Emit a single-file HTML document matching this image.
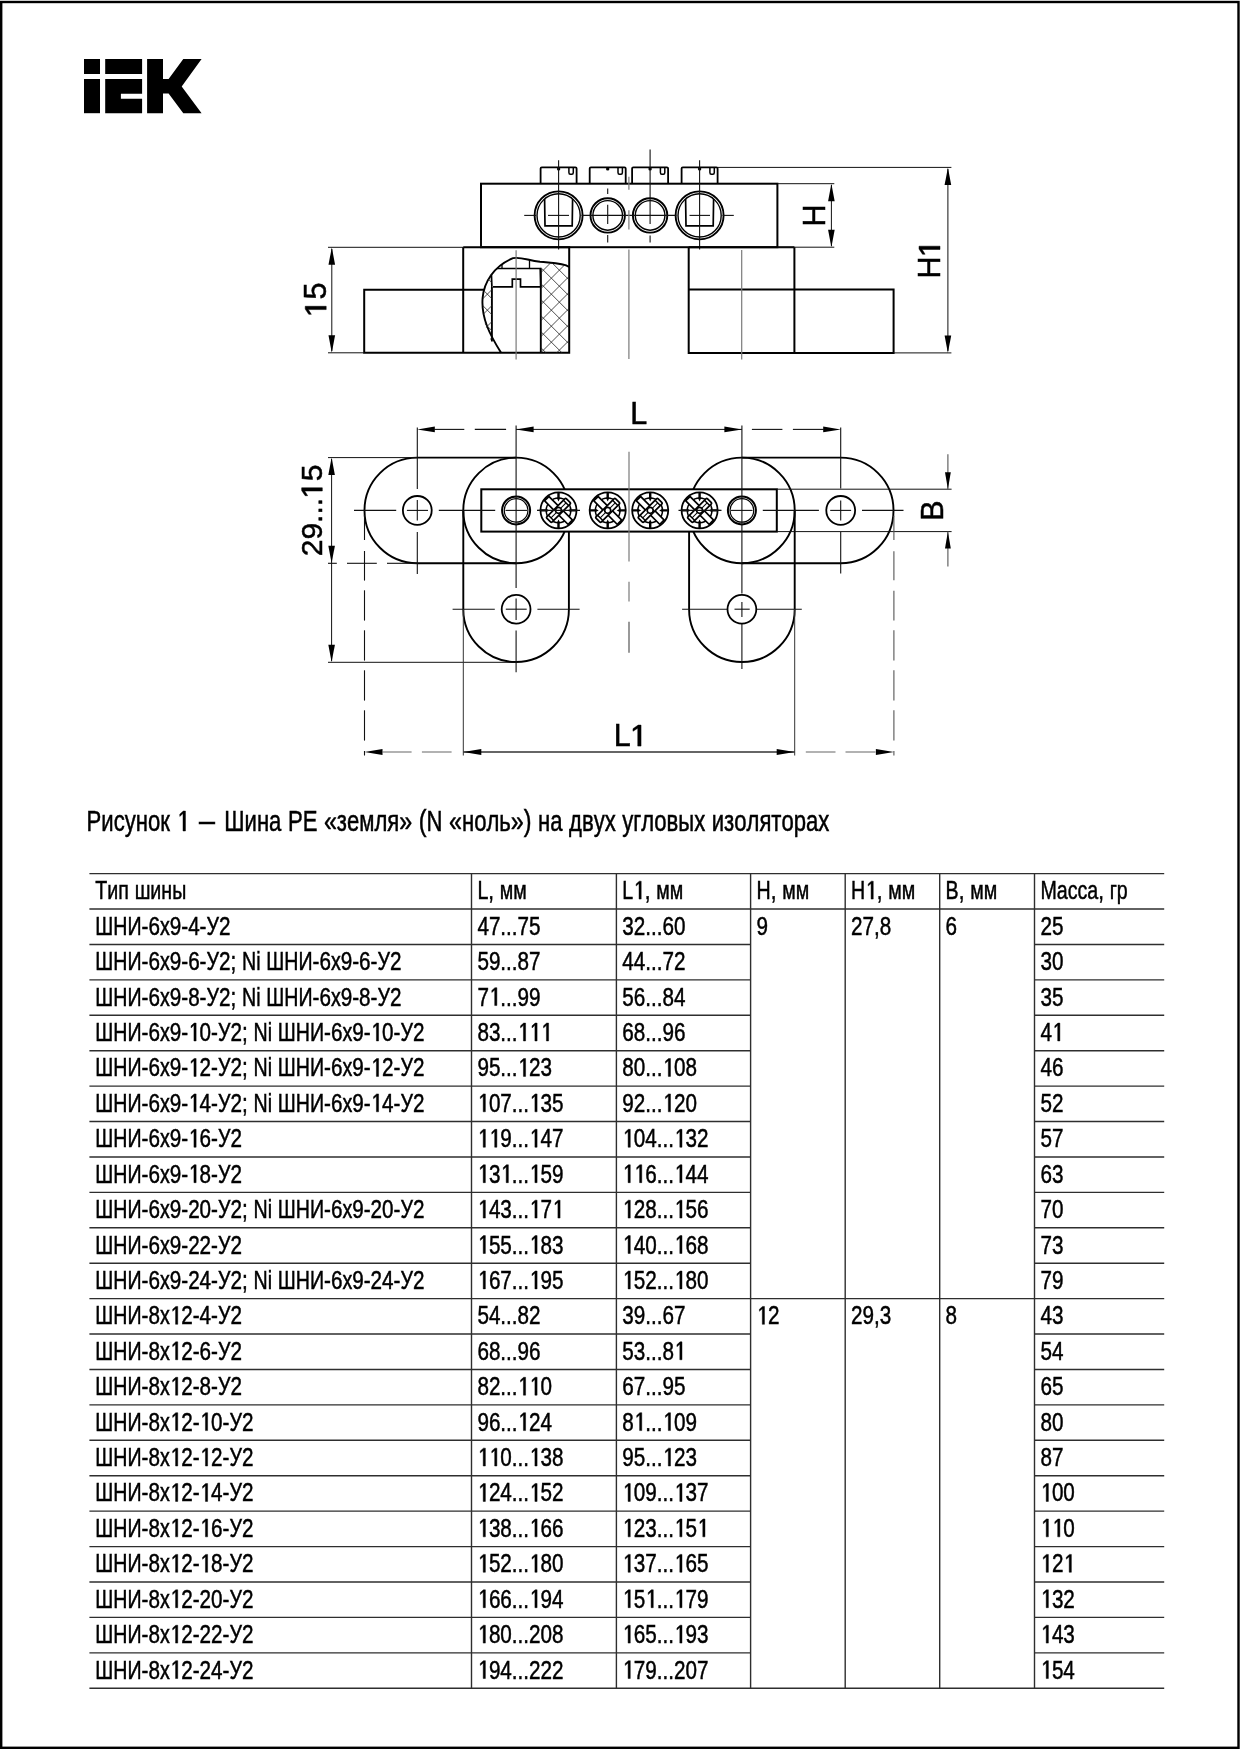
<!DOCTYPE html><html><head><meta charset="utf-8"><style>html,body{margin:0;padding:0;background:#fff;}svg{display:block;will-change:transform;}</style></head><body>
<svg width="1240" height="1750" viewBox="0 0 1240 1750">
<defs><path id="g1" d="M0.2808 0.0000 L0.2808 -0.6006 L0.1416 -0.5029 L0.1416 -0.5811 L0.2930 -0.6880 L0.3857 -0.6880 L0.3857 0.0000 Z"/><path id="g1a" d="M0.2295 0.0000 L0.2295 -0.5859 L0.0732 -0.4883 L0.0732 -0.5713 L0.2441 -0.6880 L0.3369 -0.6880 L0.3369 0.0000 Z"/></defs>
<rect x="0" y="0" width="1240" height="1750" fill="#fff"/>
<rect x="1.2" y="2" width="1237.3" height="1745.8" fill="none" stroke="#000" stroke-width="2.4"/>
<g fill="#000">
<rect x="84" y="59" width="16" height="15"/>
<rect x="84" y="79" width="16" height="34.2"/>
<rect x="105.2" y="59" width="36.9" height="15"/>
<path d="M105.2 79 H142.1 V93.8 H120.9 V98.8 H142.1 V113.2 H105.2 Z"/>
<path d="M147.1 59 H163 V78.9 H168.6 L183.3 59 H201.6 L181.7 86.5 L201.6 113.2 H183.3 L168.6 93.6 H163 V113.2 H147.1 Z"/>
</g>
<path d="M540.60 183.7 V168.6 Q540.60 167.4 541.80 167.4 H575.40 Q576.60 167.4 576.60 168.6 V183.7" stroke="#000" stroke-width="1.8" fill="none" />
<path d="M568.90 167.4 V172.4 Q568.90 174.2 570.30 174.2 H571.90 Q573.30 174.2 573.30 172.4 V167.4" stroke="#000" stroke-width="1.5" fill="none" />
<circle cx="558.60" cy="168.90" r="1.70" stroke="#000" stroke-width="0" fill="#000"/>
<path d="M589.70 183.7 V168.6 Q589.70 167.4 590.90 167.4 H624.50 Q625.70 167.4 625.70 168.6 V183.7" stroke="#000" stroke-width="1.8" fill="none" />
<path d="M618.00 167.4 V172.4 Q618.00 174.2 619.40 174.2 H621.00 Q622.40 174.2 622.40 172.4 V167.4" stroke="#000" stroke-width="1.5" fill="none" />
<circle cx="607.70" cy="168.90" r="1.70" stroke="#000" stroke-width="0" fill="#000"/>
<path d="M632.10 183.7 V168.6 Q632.10 167.4 633.30 167.4 H666.90 Q668.10 167.4 668.10 168.6 V183.7" stroke="#000" stroke-width="1.8" fill="none" />
<path d="M660.40 167.4 V172.4 Q660.40 174.2 661.80 174.2 H663.40 Q664.80 174.2 664.80 172.4 V167.4" stroke="#000" stroke-width="1.5" fill="none" />
<circle cx="650.10" cy="168.90" r="1.70" stroke="#000" stroke-width="0" fill="#000"/>
<path d="M681.60 183.7 V168.6 Q681.60 167.4 682.80 167.4 H716.40 Q717.60 167.4 717.60 168.6 V183.7" stroke="#000" stroke-width="1.8" fill="none" />
<path d="M709.90 167.4 V172.4 Q709.90 174.2 711.30 174.2 H712.90 Q714.30 174.2 714.30 172.4 V167.4" stroke="#000" stroke-width="1.5" fill="none" />
<circle cx="699.60" cy="168.90" r="1.70" stroke="#000" stroke-width="0" fill="#000"/>
<rect x="481" y="183.7" width="296.4" height="63.50" fill="none" stroke="#000" stroke-width="2.0"/>
<circle cx="558.60" cy="215.40" r="24.00" stroke="#000" stroke-width="1.9" fill="none"/>
<circle cx="558.60" cy="215.40" r="21.60" stroke="#000" stroke-width="1.4" fill="none"/>
<path d="M544.60 198.95 L545.00 225.8 H572.20 L572.60 198.95" stroke="#000" stroke-width="1.7" fill="none" />
<circle cx="607.70" cy="215.40" r="17.20" stroke="#000" stroke-width="1.9" fill="none"/>
<circle cx="607.70" cy="215.40" r="14.80" stroke="#000" stroke-width="1.4" fill="none"/>
<circle cx="650.10" cy="215.40" r="17.20" stroke="#000" stroke-width="1.9" fill="none"/>
<circle cx="650.10" cy="215.40" r="14.80" stroke="#000" stroke-width="1.4" fill="none"/>
<circle cx="699.60" cy="215.40" r="24.00" stroke="#000" stroke-width="1.9" fill="none"/>
<circle cx="699.60" cy="215.40" r="21.60" stroke="#000" stroke-width="1.4" fill="none"/>
<path d="M685.60 198.95 L686.00 225.8 H713.20 L713.60 198.95" stroke="#000" stroke-width="1.7" fill="none" />
<line x1="558.60" y1="160.20" x2="558.60" y2="249.50" stroke="#111" stroke-width="1.1" />
<line x1="699.60" y1="160.20" x2="699.60" y2="249.50" stroke="#111" stroke-width="1.1" />
<line x1="650.10" y1="149.50" x2="650.10" y2="224.00" stroke="#111" stroke-width="1.1" />
<line x1="650.10" y1="235.50" x2="650.10" y2="242.50" stroke="#111" stroke-width="1.1" />
<line x1="607.70" y1="188.40" x2="607.70" y2="194.00" stroke="#111" stroke-width="1.1" />
<line x1="607.70" y1="204.80" x2="607.70" y2="224.00" stroke="#111" stroke-width="1.1" />
<line x1="607.70" y1="235.00" x2="607.70" y2="242.50" stroke="#111" stroke-width="1.1" />
<line x1="524.20" y1="215.40" x2="536.00" y2="215.40" stroke="#111" stroke-width="1.1" />
<line x1="548.00" y1="215.40" x2="569.00" y2="215.40" stroke="#111" stroke-width="1.1" />
<line x1="581.50" y1="215.40" x2="676.50" y2="215.40" stroke="#111" stroke-width="1.1" />
<line x1="689.50" y1="215.40" x2="710.00" y2="215.40" stroke="#111" stroke-width="1.1" />
<line x1="722.50" y1="215.40" x2="733.80" y2="215.40" stroke="#111" stroke-width="1.1" />
<line x1="628.90" y1="176.70" x2="628.90" y2="189.80" stroke="#7a7a7a" stroke-width="1.2" />
<line x1="628.90" y1="210.30" x2="628.90" y2="229.50" stroke="#7a7a7a" stroke-width="1.2" />
<line x1="628.90" y1="249.50" x2="628.90" y2="359.00" stroke="#7a7a7a" stroke-width="1.2" />
<path d="M688.7 247.2 V352.9 H893.6 V289.6 H688.7" stroke="#000" stroke-width="2.0" fill="none" />
<path d="M794.4 247.2 V352.9" stroke="#000" stroke-width="2.0" fill="none" />
<line x1="688.70" y1="247.20" x2="794.40" y2="247.20" stroke="#000" stroke-width="2.0" />
<line x1="741.70" y1="250.00" x2="741.70" y2="359.60" stroke="#7a7a7a" stroke-width="1.2" />
<path d="M463.2 247.2 H569.2 V352.8 H364.2 V289.7 H484.2" stroke="#000" stroke-width="2.0" fill="none" />
<path d="M463.2 247.2 V352.8" stroke="#000" stroke-width="2.0" fill="none" />
<path d="M501.1 352.8 C490 335 481 318 482.6 298 C484 282 494 266 513 258.2 C520 256.5 527 260 540 261.8 C552 263 563 262.5 569.2 267" stroke="#000" stroke-width="1.9" fill="none" />
<path d="M491.9 341.5 V286.9" stroke="#000" stroke-width="1.9" fill="none" />
<path d="M540.8 352.8 V268.5" stroke="#000" stroke-width="1.9" fill="none" />
<clipPath id="cut"><path d="M501.1 352.8 C490 335 481 318 482.6 298 C484 282 494 266 513 258.2 C520 256.5 527 260 540 261.8 C552 263 563 262.5 569.2 267 V352.8 Z"/></clipPath>
<g clip-path="url(#cut)">
<path d="M491.9 286.9 L491.2 268.5 H540.3 L540.8 286.9" stroke="#000" stroke-width="1.7" fill="none" />
<path d="M493 286.9 H512.3 V279.2 H520.5 V286.9 H540.3" stroke="#000" stroke-width="1.7" fill="none" />
<path d="M502 250 V269 M529.5 250 V269" stroke="#000" stroke-width="1.3" fill="none" />
</g>
<clipPath id="hr"><path d="M540.8 352.8 V268.5 L541 262 C552 263 563 262.5 569.2 267 V352.8 Z"/></clipPath>
<clipPath id="hl"><path d="M491.9 352 V286.9 L491.5 272 C486 282 482 298 482.6 305 C483 320 486 330 491.9 344 Z"/></clipPath>
<g clip-path="url(#hr)">
<path d="M-190.5 380 L-30.5 220 M-194.8 220 L-34.8 380 M-174.5 380 L-14.5 220 M-178.8 220 L-18.8 380 M-158.5 380 L1.5 220 M-162.8 220 L-2.8 380 M-142.5 380 L17.5 220 M-146.8 220 L13.2 380 M-126.5 380 L33.5 220 M-130.8 220 L29.2 380 M-110.5 380 L49.5 220 M-114.8 220 L45.2 380 M-94.5 380 L65.5 220 M-98.8 220 L61.2 380 M-78.5 380 L81.5 220 M-82.8 220 L77.2 380 M-62.5 380 L97.5 220 M-66.8 220 L93.2 380 M-46.5 380 L113.5 220 M-50.8 220 L109.2 380 M-30.5 380 L129.5 220 M-34.8 220 L125.2 380 M-14.5 380 L145.5 220 M-18.8 220 L141.2 380 M1.5 380 L161.5 220 M-2.8 220 L157.2 380 M17.5 380 L177.5 220 M13.2 220 L173.2 380 M33.5 380 L193.5 220 M29.2 220 L189.2 380 M49.5 380 L209.5 220 M45.2 220 L205.2 380 M65.5 380 L225.5 220 M61.2 220 L221.2 380 M81.5 380 L241.5 220 M77.2 220 L237.2 380 M97.5 380 L257.5 220 M93.2 220 L253.2 380 M113.5 380 L273.5 220 M109.2 220 L269.2 380 M129.5 380 L289.5 220 M125.2 220 L285.2 380 M145.5 380 L305.5 220 M141.2 220 L301.2 380 M161.5 380 L321.5 220 M157.2 220 L317.2 380 M177.5 380 L337.5 220 M173.2 220 L333.2 380 M193.5 380 L353.5 220 M189.2 220 L349.2 380 M209.5 380 L369.5 220 M205.2 220 L365.2 380 M225.5 380 L385.5 220 M221.2 220 L381.2 380 M241.5 380 L401.5 220 M237.2 220 L397.2 380 M257.5 380 L417.5 220 M253.2 220 L413.2 380 M273.5 380 L433.5 220 M269.2 220 L429.2 380 M289.5 380 L449.5 220 M285.2 220 L445.2 380 M305.5 380 L465.5 220 M301.2 220 L461.2 380 M321.5 380 L481.5 220 M317.2 220 L477.2 380 M337.5 380 L497.5 220 M333.2 220 L493.2 380 M353.5 380 L513.5 220 M349.2 220 L509.2 380 M369.5 380 L529.5 220 M365.2 220 L525.2 380 M385.5 380 L545.5 220 M381.2 220 L541.2 380 M401.5 380 L561.5 220 M397.2 220 L557.2 380 M417.5 380 L577.5 220 M413.2 220 L573.2 380 M433.5 380 L593.5 220 M429.2 220 L589.2 380 M449.5 380 L609.5 220 M445.2 220 L605.2 380 M465.5 380 L625.5 220 M461.2 220 L621.2 380 M481.5 380 L641.5 220 M477.2 220 L637.2 380 M497.5 380 L657.5 220 M493.2 220 L653.2 380 M513.5 380 L673.5 220 M509.2 220 L669.2 380 M529.5 380 L689.5 220 M525.2 220 L685.2 380 M545.5 380 L705.5 220 M541.2 220 L701.2 380 M561.5 380 L721.5 220 M557.2 220 L717.2 380 M577.5 380 L737.5 220 M573.2 220 L733.2 380 M593.5 380 L753.5 220 M589.2 220 L749.2 380 M609.5 380 L769.5 220 M605.2 220 L765.2 380 M625.5 380 L785.5 220 M621.2 220 L781.2 380 M641.5 380 L801.5 220 M637.2 220 L797.2 380 M657.5 380 L817.5 220 M653.2 220 L813.2 380 M673.5 380 L833.5 220 M669.2 220 L829.2 380 M689.5 380 L849.5 220 M685.2 220 L845.2 380 M705.5 380 L865.5 220 M701.2 220 L861.2 380 M721.5 380 L881.5 220 M717.2 220 L877.2 380 M737.5 380 L897.5 220 M733.2 220 L893.2 380 M753.5 380 L913.5 220 M749.2 220 L909.2 380 M769.5 380 L929.5 220 M765.2 220 L925.2 380 M785.5 380 L945.5 220 M781.2 220 L941.2 380 M801.5 380 L961.5 220 M797.2 220 L957.2 380 M817.5 380 L977.5 220 M813.2 220 L973.2 380 M833.5 380 L993.5 220 M829.2 220 L989.2 380 M849.5 380 L1009.5 220 M845.2 220 L1005.2 380 M865.5 380 L1025.5 220 M861.2 220 L1021.2 380 M881.5 380 L1041.5 220 M877.2 220 L1037.2 380 M897.5 380 L1057.5 220 M893.2 220 L1053.2 380 M913.5 380 L1073.5 220 M909.2 220 L1069.2 380 M929.5 380 L1089.5 220 M925.2 220 L1085.2 380 M945.5 380 L1105.5 220 M941.2 220 L1101.2 380 M961.5 380 L1121.5 220 M957.2 220 L1117.2 380 M977.5 380 L1137.5 220 M973.2 220 L1133.2 380 M993.5 380 L1153.5 220 M989.2 220 L1149.2 380 M1009.5 380 L1169.5 220 M1005.2 220 L1165.2 380 M1025.5 380 L1185.5 220 M1021.2 220 L1181.2 380 M1041.5 380 L1201.5 220 M1037.2 220 L1197.2 380 M1057.5 380 L1217.5 220 M1053.2 220 L1213.2 380 M1073.5 380 L1233.5 220 M1069.2 220 L1229.2 380" stroke="#222" stroke-width="0.8" fill="none" />
</g>
<g clip-path="url(#hl)">
<path d="M-190.5 380 L-30.5 220 M-194.8 220 L-34.8 380 M-174.5 380 L-14.5 220 M-178.8 220 L-18.8 380 M-158.5 380 L1.5 220 M-162.8 220 L-2.8 380 M-142.5 380 L17.5 220 M-146.8 220 L13.2 380 M-126.5 380 L33.5 220 M-130.8 220 L29.2 380 M-110.5 380 L49.5 220 M-114.8 220 L45.2 380 M-94.5 380 L65.5 220 M-98.8 220 L61.2 380 M-78.5 380 L81.5 220 M-82.8 220 L77.2 380 M-62.5 380 L97.5 220 M-66.8 220 L93.2 380 M-46.5 380 L113.5 220 M-50.8 220 L109.2 380 M-30.5 380 L129.5 220 M-34.8 220 L125.2 380 M-14.5 380 L145.5 220 M-18.8 220 L141.2 380 M1.5 380 L161.5 220 M-2.8 220 L157.2 380 M17.5 380 L177.5 220 M13.2 220 L173.2 380 M33.5 380 L193.5 220 M29.2 220 L189.2 380 M49.5 380 L209.5 220 M45.2 220 L205.2 380 M65.5 380 L225.5 220 M61.2 220 L221.2 380 M81.5 380 L241.5 220 M77.2 220 L237.2 380 M97.5 380 L257.5 220 M93.2 220 L253.2 380 M113.5 380 L273.5 220 M109.2 220 L269.2 380 M129.5 380 L289.5 220 M125.2 220 L285.2 380 M145.5 380 L305.5 220 M141.2 220 L301.2 380 M161.5 380 L321.5 220 M157.2 220 L317.2 380 M177.5 380 L337.5 220 M173.2 220 L333.2 380 M193.5 380 L353.5 220 M189.2 220 L349.2 380 M209.5 380 L369.5 220 M205.2 220 L365.2 380 M225.5 380 L385.5 220 M221.2 220 L381.2 380 M241.5 380 L401.5 220 M237.2 220 L397.2 380 M257.5 380 L417.5 220 M253.2 220 L413.2 380 M273.5 380 L433.5 220 M269.2 220 L429.2 380 M289.5 380 L449.5 220 M285.2 220 L445.2 380 M305.5 380 L465.5 220 M301.2 220 L461.2 380 M321.5 380 L481.5 220 M317.2 220 L477.2 380 M337.5 380 L497.5 220 M333.2 220 L493.2 380 M353.5 380 L513.5 220 M349.2 220 L509.2 380 M369.5 380 L529.5 220 M365.2 220 L525.2 380 M385.5 380 L545.5 220 M381.2 220 L541.2 380 M401.5 380 L561.5 220 M397.2 220 L557.2 380 M417.5 380 L577.5 220 M413.2 220 L573.2 380 M433.5 380 L593.5 220 M429.2 220 L589.2 380 M449.5 380 L609.5 220 M445.2 220 L605.2 380 M465.5 380 L625.5 220 M461.2 220 L621.2 380 M481.5 380 L641.5 220 M477.2 220 L637.2 380 M497.5 380 L657.5 220 M493.2 220 L653.2 380 M513.5 380 L673.5 220 M509.2 220 L669.2 380 M529.5 380 L689.5 220 M525.2 220 L685.2 380 M545.5 380 L705.5 220 M541.2 220 L701.2 380 M561.5 380 L721.5 220 M557.2 220 L717.2 380 M577.5 380 L737.5 220 M573.2 220 L733.2 380 M593.5 380 L753.5 220 M589.2 220 L749.2 380 M609.5 380 L769.5 220 M605.2 220 L765.2 380 M625.5 380 L785.5 220 M621.2 220 L781.2 380 M641.5 380 L801.5 220 M637.2 220 L797.2 380 M657.5 380 L817.5 220 M653.2 220 L813.2 380 M673.5 380 L833.5 220 M669.2 220 L829.2 380 M689.5 380 L849.5 220 M685.2 220 L845.2 380 M705.5 380 L865.5 220 M701.2 220 L861.2 380 M721.5 380 L881.5 220 M717.2 220 L877.2 380 M737.5 380 L897.5 220 M733.2 220 L893.2 380 M753.5 380 L913.5 220 M749.2 220 L909.2 380 M769.5 380 L929.5 220 M765.2 220 L925.2 380 M785.5 380 L945.5 220 M781.2 220 L941.2 380 M801.5 380 L961.5 220 M797.2 220 L957.2 380 M817.5 380 L977.5 220 M813.2 220 L973.2 380 M833.5 380 L993.5 220 M829.2 220 L989.2 380 M849.5 380 L1009.5 220 M845.2 220 L1005.2 380 M865.5 380 L1025.5 220 M861.2 220 L1021.2 380 M881.5 380 L1041.5 220 M877.2 220 L1037.2 380 M897.5 380 L1057.5 220 M893.2 220 L1053.2 380 M913.5 380 L1073.5 220 M909.2 220 L1069.2 380 M929.5 380 L1089.5 220 M925.2 220 L1085.2 380 M945.5 380 L1105.5 220 M941.2 220 L1101.2 380 M961.5 380 L1121.5 220 M957.2 220 L1117.2 380 M977.5 380 L1137.5 220 M973.2 220 L1133.2 380 M993.5 380 L1153.5 220 M989.2 220 L1149.2 380 M1009.5 380 L1169.5 220 M1005.2 220 L1165.2 380 M1025.5 380 L1185.5 220 M1021.2 220 L1181.2 380 M1041.5 380 L1201.5 220 M1037.2 220 L1197.2 380 M1057.5 380 L1217.5 220 M1053.2 220 L1213.2 380 M1073.5 380 L1233.5 220 M1069.2 220 L1229.2 380" stroke="#222" stroke-width="0.8" fill="none" />
</g>
<line x1="516.10" y1="250.20" x2="516.10" y2="359.50" stroke="#7a7a7a" stroke-width="1.2" />
<line x1="481.00" y1="240.00" x2="481.00" y2="247.20" stroke="#111" stroke-width="1.6" />
<line x1="328.00" y1="247.30" x2="463.20" y2="247.30" stroke="#111" stroke-width="1.0" />
<line x1="328.00" y1="352.80" x2="364.20" y2="352.80" stroke="#111" stroke-width="1.0" />
<line x1="331.80" y1="249.00" x2="331.80" y2="351.00" stroke="#111" stroke-width="1.0" />
<polygon points="331.80,247.30 328.50,264.80 335.10,264.80" fill="#000"/>
<polygon points="331.80,352.80 328.50,335.30 335.10,335.30" fill="#000"/>
<g transform="translate(326.20,299.60) rotate(-90)"><text x="-16.963" y="0" font-family="Liberation Sans" font-size="30.5" fill="#000" stroke="#000" stroke-width="0.5" style="font-kerning:none;white-space:pre"> 5</text><use href="#g1a" transform="translate(-16.963,0) scale(30.5)" fill="#000" stroke="#000" stroke-width="0.0164"/></g>
<line x1="777.40" y1="183.70" x2="834.30" y2="183.70" stroke="#111" stroke-width="1.0" />
<line x1="777.40" y1="247.20" x2="834.30" y2="247.20" stroke="#111" stroke-width="1.0" />
<line x1="831.40" y1="185.00" x2="831.40" y2="246.00" stroke="#111" stroke-width="1.0" />
<polygon points="831.40,183.70 828.10,201.20 834.70,201.20" fill="#000"/>
<polygon points="831.40,247.20 828.10,229.70 834.70,229.70" fill="#000"/>
<g transform="translate(825.00,215.40) rotate(-90)"><text x="-11.013" y="0" font-family="Liberation Sans" font-size="30.5" fill="#000" stroke="#000" stroke-width="0.5" style="font-kerning:none;white-space:pre">H</text></g>
<line x1="717.40" y1="167.40" x2="951.40" y2="167.40" stroke="#111" stroke-width="1.0" />
<line x1="893.60" y1="352.90" x2="951.40" y2="352.90" stroke="#111" stroke-width="1.0" />
<line x1="947.90" y1="169.00" x2="947.90" y2="351.00" stroke="#111" stroke-width="1.0" />
<polygon points="947.90,167.40 944.60,184.90 951.20,184.90" fill="#000"/>
<polygon points="947.90,352.90 944.60,335.40 951.20,335.40" fill="#000"/>
<g transform="translate(940.00,259.00) rotate(-90)"><text x="-19.494" y="0" font-family="Liberation Sans" font-size="30.5" fill="#000" stroke="#000" stroke-width="0.5" style="font-kerning:none;white-space:pre">H </text><use href="#g1a" transform="translate(2.532,0) scale(30.5)" fill="#000" stroke="#000" stroke-width="0.0164"/></g>
<path d="M516.1 457.59999999999997 H417.3 A52.8 52.8 0 0 0 417.3 563.1999999999999 H516.1" stroke="#000" stroke-width="1.9" fill="none" />
<path d="M741.9 457.59999999999997 H840.7 A52.8 52.8 0 0 1 840.7 563.1999999999999 H741.9" stroke="#000" stroke-width="1.9" fill="none" />
<path d="M463.3 510.4 V609.2 A52.8 52.8 0 0 0 568.9 609.2 V510.4" stroke="#000" stroke-width="1.9" fill="none" />
<path d="M689.1 510.4 V609.2 A52.8 52.8 0 0 0 794.6999999999999 609.2 V510.4" stroke="#000" stroke-width="1.9" fill="none" />
<circle cx="516.10" cy="510.40" r="52.80" stroke="#000" stroke-width="1.9" fill="none"/>
<circle cx="741.90" cy="510.40" r="52.80" stroke="#000" stroke-width="1.9" fill="none"/>
<circle cx="417.30" cy="510.40" r="14.40" stroke="#000" stroke-width="1.8" fill="none"/>
<circle cx="840.70" cy="510.40" r="14.40" stroke="#000" stroke-width="1.8" fill="none"/>
<circle cx="516.10" cy="609.20" r="14.40" stroke="#000" stroke-width="1.8" fill="none"/>
<circle cx="741.90" cy="609.20" r="14.40" stroke="#000" stroke-width="1.8" fill="none"/>
<rect x="481.3" y="489.3" width="295.5" height="42.3" fill="#fff" stroke="#000" stroke-width="2"/>
<circle cx="516.10" cy="510.40" r="14.00" stroke="#000" stroke-width="2.0" fill="none"/>
<circle cx="516.10" cy="510.40" r="11.80" stroke="#000" stroke-width="1.2" fill="none"/>
<circle cx="741.90" cy="510.40" r="14.00" stroke="#000" stroke-width="2.0" fill="none"/>
<circle cx="741.90" cy="510.40" r="11.80" stroke="#000" stroke-width="1.2" fill="none"/>
<g transform="translate(558.50,510.40)">
<circle cx="0.00" cy="0.00" r="18.00" stroke="#000" stroke-width="1.8" fill="#fff"/>
<circle cx="0.00" cy="0.00" r="12.30" stroke="#000" stroke-width="1.5" fill="none"/>
<g transform="rotate(45)">
<rect x="-16.6" y="-3.1" width="33.2" height="6.2" fill="#fff" stroke="#000" stroke-width="1.7"/>
<rect x="-3.7" y="-13.8" width="7.4" height="27.6" rx="1.2" fill="#fff" stroke="#000" stroke-width="1.7"/>
<path d="M-3.7 -10.6 H3.7 M-3.7 10.6 H3.7" stroke="#000" stroke-width="1.5" fill="none" />
<path d="M0 -10.6 V10.6" stroke="#000" stroke-width="1.0" fill="none" />
</g>
<circle cx="0.00" cy="0.00" r="3.00" stroke="#000" stroke-width="1.7" fill="#fff"/>
<g transform="rotate(0)"><path d="M-1.2 -17.6 V-12.6 L-1.8 -12.6 L0 -9.0 L1.8 -12.6 L1.2 -12.6 V-17.6 Z" fill="#000"/></g>
<g transform="rotate(90)"><path d="M-1.2 -17.6 V-12.6 L-1.8 -12.6 L0 -9.0 L1.8 -12.6 L1.2 -12.6 V-17.6 Z" fill="#000"/></g>
<g transform="rotate(180)"><path d="M-1.2 -17.6 V-12.6 L-1.8 -12.6 L0 -9.0 L1.8 -12.6 L1.2 -12.6 V-17.6 Z" fill="#000"/></g>
<g transform="rotate(270)"><path d="M-1.2 -17.6 V-12.6 L-1.8 -12.6 L0 -9.0 L1.8 -12.6 L1.2 -12.6 V-17.6 Z" fill="#000"/></g>
</g>
<g transform="translate(607.70,510.40)">
<circle cx="0.00" cy="0.00" r="18.00" stroke="#000" stroke-width="1.8" fill="#fff"/>
<circle cx="0.00" cy="0.00" r="12.30" stroke="#000" stroke-width="1.5" fill="none"/>
<g transform="rotate(45)">
<rect x="-16.6" y="-3.1" width="33.2" height="6.2" fill="#fff" stroke="#000" stroke-width="1.7"/>
<rect x="-3.7" y="-13.8" width="7.4" height="27.6" rx="1.2" fill="#fff" stroke="#000" stroke-width="1.7"/>
<path d="M-3.7 -10.6 H3.7 M-3.7 10.6 H3.7" stroke="#000" stroke-width="1.5" fill="none" />
<path d="M0 -10.6 V10.6" stroke="#000" stroke-width="1.0" fill="none" />
</g>
<circle cx="0.00" cy="0.00" r="3.00" stroke="#000" stroke-width="1.7" fill="#fff"/>
<g transform="rotate(0)"><path d="M-1.2 -17.6 V-12.6 L-1.8 -12.6 L0 -9.0 L1.8 -12.6 L1.2 -12.6 V-17.6 Z" fill="#000"/></g>
<g transform="rotate(90)"><path d="M-1.2 -17.6 V-12.6 L-1.8 -12.6 L0 -9.0 L1.8 -12.6 L1.2 -12.6 V-17.6 Z" fill="#000"/></g>
<g transform="rotate(180)"><path d="M-1.2 -17.6 V-12.6 L-1.8 -12.6 L0 -9.0 L1.8 -12.6 L1.2 -12.6 V-17.6 Z" fill="#000"/></g>
<g transform="rotate(270)"><path d="M-1.2 -17.6 V-12.6 L-1.8 -12.6 L0 -9.0 L1.8 -12.6 L1.2 -12.6 V-17.6 Z" fill="#000"/></g>
</g>
<g transform="translate(650.20,510.40)">
<circle cx="0.00" cy="0.00" r="18.00" stroke="#000" stroke-width="1.8" fill="#fff"/>
<circle cx="0.00" cy="0.00" r="12.30" stroke="#000" stroke-width="1.5" fill="none"/>
<g transform="rotate(45)">
<rect x="-16.6" y="-3.1" width="33.2" height="6.2" fill="#fff" stroke="#000" stroke-width="1.7"/>
<rect x="-3.7" y="-13.8" width="7.4" height="27.6" rx="1.2" fill="#fff" stroke="#000" stroke-width="1.7"/>
<path d="M-3.7 -10.6 H3.7 M-3.7 10.6 H3.7" stroke="#000" stroke-width="1.5" fill="none" />
<path d="M0 -10.6 V10.6" stroke="#000" stroke-width="1.0" fill="none" />
</g>
<circle cx="0.00" cy="0.00" r="3.00" stroke="#000" stroke-width="1.7" fill="#fff"/>
<g transform="rotate(0)"><path d="M-1.2 -17.6 V-12.6 L-1.8 -12.6 L0 -9.0 L1.8 -12.6 L1.2 -12.6 V-17.6 Z" fill="#000"/></g>
<g transform="rotate(90)"><path d="M-1.2 -17.6 V-12.6 L-1.8 -12.6 L0 -9.0 L1.8 -12.6 L1.2 -12.6 V-17.6 Z" fill="#000"/></g>
<g transform="rotate(180)"><path d="M-1.2 -17.6 V-12.6 L-1.8 -12.6 L0 -9.0 L1.8 -12.6 L1.2 -12.6 V-17.6 Z" fill="#000"/></g>
<g transform="rotate(270)"><path d="M-1.2 -17.6 V-12.6 L-1.8 -12.6 L0 -9.0 L1.8 -12.6 L1.2 -12.6 V-17.6 Z" fill="#000"/></g>
</g>
<g transform="translate(699.60,510.40)">
<circle cx="0.00" cy="0.00" r="18.00" stroke="#000" stroke-width="1.8" fill="#fff"/>
<circle cx="0.00" cy="0.00" r="12.30" stroke="#000" stroke-width="1.5" fill="none"/>
<g transform="rotate(45)">
<rect x="-16.6" y="-3.1" width="33.2" height="6.2" fill="#fff" stroke="#000" stroke-width="1.7"/>
<rect x="-3.7" y="-13.8" width="7.4" height="27.6" rx="1.2" fill="#fff" stroke="#000" stroke-width="1.7"/>
<path d="M-3.7 -10.6 H3.7 M-3.7 10.6 H3.7" stroke="#000" stroke-width="1.5" fill="none" />
<path d="M0 -10.6 V10.6" stroke="#000" stroke-width="1.0" fill="none" />
</g>
<circle cx="0.00" cy="0.00" r="3.00" stroke="#000" stroke-width="1.7" fill="#fff"/>
<g transform="rotate(0)"><path d="M-1.2 -17.6 V-12.6 L-1.8 -12.6 L0 -9.0 L1.8 -12.6 L1.2 -12.6 V-17.6 Z" fill="#000"/></g>
<g transform="rotate(90)"><path d="M-1.2 -17.6 V-12.6 L-1.8 -12.6 L0 -9.0 L1.8 -12.6 L1.2 -12.6 V-17.6 Z" fill="#000"/></g>
<g transform="rotate(180)"><path d="M-1.2 -17.6 V-12.6 L-1.8 -12.6 L0 -9.0 L1.8 -12.6 L1.2 -12.6 V-17.6 Z" fill="#000"/></g>
<g transform="rotate(270)"><path d="M-1.2 -17.6 V-12.6 L-1.8 -12.6 L0 -9.0 L1.8 -12.6 L1.2 -12.6 V-17.6 Z" fill="#000"/></g>
</g>
<line x1="537.00" y1="510.40" x2="580.00" y2="510.40" stroke="#111" stroke-width="1.1" />
<line x1="678.50" y1="510.40" x2="721.50" y2="510.40" stroke="#111" stroke-width="1.1" />
<line x1="354.00" y1="510.40" x2="396.20" y2="510.40" stroke="#111" stroke-width="1.1" />
<line x1="406.90" y1="510.40" x2="428.00" y2="510.40" stroke="#111" stroke-width="1.1" />
<line x1="438.80" y1="510.40" x2="495.20" y2="510.40" stroke="#111" stroke-width="1.1" />
<line x1="505.50" y1="510.40" x2="527.00" y2="510.40" stroke="#111" stroke-width="1.1" />
<line x1="537.50" y1="510.40" x2="545.50" y2="510.40" stroke="#111" stroke-width="1.1" />
<line x1="712.50" y1="510.40" x2="720.50" y2="510.40" stroke="#111" stroke-width="1.1" />
<line x1="731.00" y1="510.40" x2="752.50" y2="510.40" stroke="#111" stroke-width="1.1" />
<line x1="762.80" y1="510.40" x2="818.90" y2="510.40" stroke="#111" stroke-width="1.1" />
<line x1="830.20" y1="510.40" x2="851.10" y2="510.40" stroke="#111" stroke-width="1.1" />
<line x1="862.00" y1="510.40" x2="903.50" y2="510.40" stroke="#111" stroke-width="1.1" />
<line x1="417.30" y1="427.40" x2="417.30" y2="489.10" stroke="#111" stroke-width="1.1" />
<line x1="417.30" y1="500.00" x2="417.30" y2="520.50" stroke="#111" stroke-width="1.1" />
<line x1="417.30" y1="532.00" x2="417.30" y2="574.00" stroke="#111" stroke-width="1.1" />
<line x1="840.70" y1="427.40" x2="840.70" y2="488.40" stroke="#111" stroke-width="1.1" />
<line x1="840.70" y1="500.50" x2="840.70" y2="520.60" stroke="#111" stroke-width="1.1" />
<line x1="840.70" y1="532.00" x2="840.70" y2="573.50" stroke="#111" stroke-width="1.1" />
<line x1="516.10" y1="425.60" x2="516.10" y2="588.00" stroke="#111" stroke-width="1.1" />
<line x1="516.10" y1="598.40" x2="516.10" y2="620.00" stroke="#111" stroke-width="1.1" />
<line x1="516.10" y1="630.40" x2="516.10" y2="672.30" stroke="#111" stroke-width="1.1" />
<line x1="741.90" y1="425.60" x2="741.90" y2="593.50" stroke="#111" stroke-width="1.1" />
<line x1="741.90" y1="602.00" x2="741.90" y2="617.00" stroke="#111" stroke-width="1.1" />
<line x1="741.90" y1="624.00" x2="741.90" y2="669.00" stroke="#111" stroke-width="1.1" />
<line x1="452.60" y1="609.20" x2="494.80" y2="609.20" stroke="#111" stroke-width="1.1" />
<line x1="505.80" y1="609.20" x2="526.70" y2="609.20" stroke="#111" stroke-width="1.1" />
<line x1="537.40" y1="609.20" x2="579.60" y2="609.20" stroke="#111" stroke-width="1.1" />
<line x1="682.10" y1="609.20" x2="727.30" y2="609.20" stroke="#111" stroke-width="1.1" />
<line x1="734.50" y1="609.20" x2="749.70" y2="609.20" stroke="#111" stroke-width="1.1" />
<line x1="756.90" y1="609.20" x2="801.80" y2="609.20" stroke="#111" stroke-width="1.1" />
<line x1="629.00" y1="451.80" x2="629.00" y2="561.40" stroke="#7a7a7a" stroke-width="1.2" />
<line x1="629.00" y1="581.80" x2="629.00" y2="601.50" stroke="#7a7a7a" stroke-width="1.2" />
<line x1="629.00" y1="621.80" x2="629.00" y2="652.70" stroke="#555" stroke-width="1.2" />
<line x1="516.10" y1="429.40" x2="741.90" y2="429.40" stroke="#111" stroke-width="1.0" />
<line x1="434.30" y1="429.40" x2="464.30" y2="429.40" stroke="#111" stroke-width="1.1" />
<line x1="474.80" y1="429.40" x2="506.10" y2="429.40" stroke="#111" stroke-width="1.1" />
<line x1="751.90" y1="429.40" x2="782.40" y2="429.40" stroke="#111" stroke-width="1.1" />
<line x1="792.90" y1="429.40" x2="823.70" y2="429.40" stroke="#111" stroke-width="1.1" />
<polygon points="417.30,429.40 434.80,426.50 434.80,432.30" fill="#000"/>
<polygon points="516.10,429.40 533.60,426.50 533.60,432.30" fill="#000"/>
<polygon points="741.90,429.40 724.40,426.50 724.40,432.30" fill="#000"/>
<polygon points="840.70,429.40 823.20,426.50 823.20,432.30" fill="#000"/>
<g transform="translate(630.20,423.80)"><text x="0.000" y="0" font-family="Liberation Sans" font-size="30.5" fill="#000" stroke="#000" stroke-width="0.5" style="font-kerning:none;white-space:pre">L</text></g>
<line x1="328.00" y1="457.60" x2="417.30" y2="457.60" stroke="#111" stroke-width="1.0" />
<line x1="328.00" y1="563.30" x2="336.80" y2="563.30" stroke="#111" stroke-width="1.1" />
<line x1="347.00" y1="563.30" x2="376.80" y2="563.30" stroke="#111" stroke-width="1.1" />
<line x1="387.00" y1="563.30" x2="417.00" y2="563.30" stroke="#111" stroke-width="1.1" />
<line x1="328.00" y1="662.30" x2="516.10" y2="662.30" stroke="#111" stroke-width="1.0" />
<line x1="331.60" y1="459.00" x2="331.60" y2="661.00" stroke="#111" stroke-width="1.0" />
<polygon points="331.60,457.60 328.30,475.10 334.90,475.10" fill="#000"/>
<polygon points="331.60,563.30 328.30,545.80 334.90,545.80" fill="#000"/>
<polygon points="331.60,662.30 328.30,644.80 334.90,644.80" fill="#000"/>
<g transform="translate(322.30,510.40) rotate(-90)"><text x="-45.872" y="0" font-family="Liberation Sans" font-size="30" fill="#000" stroke="#000" stroke-width="0.5" style="font-kerning:none;white-space:pre">29... 5</text><use href="#g1a" transform="translate(12.502,0) scale(30)" fill="#000" stroke="#000" stroke-width="0.0167"/></g>
<line x1="776.80" y1="489.20" x2="951.60" y2="489.20" stroke="#111" stroke-width="1.0" />
<line x1="776.80" y1="531.60" x2="951.60" y2="531.60" stroke="#111" stroke-width="1.0" />
<line x1="947.90" y1="454.20" x2="947.90" y2="489.20" stroke="#555" stroke-width="1.1" />
<line x1="947.90" y1="531.60" x2="947.90" y2="566.60" stroke="#555" stroke-width="1.1" />
<polygon points="947.90,489.20 945.00,472.20 950.80,472.20" fill="#000"/>
<polygon points="947.90,531.60 945.00,548.60 950.80,548.60" fill="#000"/>
<g transform="translate(942.80,510.60) rotate(-90)"><text x="-10.172" y="0" font-family="Liberation Sans" font-size="30.5" fill="#000" stroke="#000" stroke-width="0.5" style="font-kerning:none;white-space:pre">B</text></g>
<line x1="364.50" y1="515.00" x2="364.50" y2="540.00" stroke="#111" stroke-width="1.1" />
<line x1="364.50" y1="551.00" x2="364.50" y2="580.60" stroke="#111" stroke-width="1.1" />
<line x1="364.50" y1="590.30" x2="364.50" y2="620.60" stroke="#111" stroke-width="1.1" />
<line x1="364.50" y1="630.30" x2="364.50" y2="660.60" stroke="#111" stroke-width="1.1" />
<line x1="364.50" y1="670.30" x2="364.50" y2="700.60" stroke="#111" stroke-width="1.1" />
<line x1="364.50" y1="710.30" x2="364.50" y2="740.60" stroke="#111" stroke-width="1.1" />
<line x1="364.50" y1="751.00" x2="364.50" y2="755.50" stroke="#111" stroke-width="1.1" />
<line x1="893.90" y1="515.80" x2="893.90" y2="540.00" stroke="#555" stroke-width="1.1" />
<line x1="893.90" y1="551.30" x2="893.90" y2="580.30" stroke="#555" stroke-width="1.1" />
<line x1="893.90" y1="590.80" x2="893.90" y2="620.60" stroke="#555" stroke-width="1.1" />
<line x1="893.90" y1="630.30" x2="893.90" y2="660.60" stroke="#555" stroke-width="1.1" />
<line x1="893.90" y1="670.30" x2="893.90" y2="700.60" stroke="#555" stroke-width="1.1" />
<line x1="893.90" y1="710.30" x2="893.90" y2="740.60" stroke="#555" stroke-width="1.1" />
<line x1="893.90" y1="751.00" x2="893.90" y2="755.50" stroke="#555" stroke-width="1.1" />
<line x1="463.30" y1="609.20" x2="463.30" y2="755.50" stroke="#333" stroke-width="1.0" />
<line x1="794.70" y1="609.20" x2="794.70" y2="755.50" stroke="#333" stroke-width="1.0" />
<line x1="463.30" y1="752.00" x2="794.70" y2="752.00" stroke="#333" stroke-width="1.3" />
<line x1="382.60" y1="752.00" x2="411.60" y2="752.00" stroke="#888" stroke-width="1.3" />
<line x1="421.90" y1="752.00" x2="451.60" y2="752.00" stroke="#888" stroke-width="1.3" />
<line x1="805.80" y1="752.00" x2="835.50" y2="752.00" stroke="#888" stroke-width="1.3" />
<line x1="845.50" y1="752.00" x2="875.50" y2="752.00" stroke="#888" stroke-width="1.3" />
<polygon points="364.50,752.00 382.50,749.00 382.50,755.00" fill="#000"/>
<polygon points="463.30,752.00 481.30,749.00 481.30,755.00" fill="#000"/>
<polygon points="794.70,752.00 776.70,749.00 776.70,755.00" fill="#000"/>
<polygon points="893.90,752.00 875.90,749.00 875.90,755.00" fill="#000"/>
<g transform="translate(613.80,746.10)"><text x="0.000" y="0" font-family="Liberation Sans" font-size="30.5" fill="#000" stroke="#000" stroke-width="0.5" style="font-kerning:none;white-space:pre">L </text><use href="#g1a" transform="translate(16.963,0) scale(30.5)" fill="#000" stroke="#000" stroke-width="0.0164"/></g>
<g transform="translate(86.600,831.00) scale(0.7626,1)"><text x="0.000" y="0" font-family="Liberation Sans" font-size="29" fill="#000" stroke="#000" stroke-width="0.5" style="font-kerning:none;white-space:pre">Рисунок</text></g><g transform="translate(170.002,831.00) scale(0.8030,1)"><text x="0.000" y="0" font-family="Liberation Sans" font-size="29" fill="#000" stroke="#000" stroke-width="0.5" style="font-kerning:none;white-space:pre">   </text><use href="#g1" transform="translate(8.057,0) scale(29)" fill="#000" stroke="#000" stroke-width="0.0172"/></g><g transform="translate(198.892,831.00) scale(0.9900,1)"><text x="0.000" y="0" font-family="Liberation Sans" font-size="29" fill="#000" stroke="#000" stroke-width="0.5" style="font-kerning:none;white-space:pre">–</text></g><g transform="translate(217.859,831.00) scale(0.8030,1)"><text x="0.000" y="0" font-family="Liberation Sans" font-size="29" fill="#000" stroke="#000" stroke-width="0.5" style="font-kerning:none;white-space:pre"> </text></g><g transform="translate(224.328,831.00) scale(0.7626,1)"><text x="0.000" y="0" font-family="Liberation Sans" font-size="29" fill="#000" stroke="#000" stroke-width="0.5" style="font-kerning:none;white-space:pre">Шина</text></g><g transform="translate(281.460,831.00) scale(0.8030,1)"><text x="0.000" y="0" font-family="Liberation Sans" font-size="29" fill="#000" stroke="#000" stroke-width="0.5" style="font-kerning:none;white-space:pre"> </text></g><g transform="translate(287.929,831.00) scale(0.7626,1)"><text x="0.000" y="0" font-family="Liberation Sans" font-size="29" fill="#000" stroke="#000" stroke-width="0.5" style="font-kerning:none;white-space:pre">PE</text></g><g transform="translate(317.429,831.00) scale(0.8030,1)"><text x="0.000" y="0" font-family="Liberation Sans" font-size="29" fill="#000" stroke="#000" stroke-width="0.5" style="font-kerning:none;white-space:pre"> «</text></g><g transform="translate(336.849,831.00) scale(0.7626,1)"><text x="0.000" y="0" font-family="Liberation Sans" font-size="29" fill="#000" stroke="#000" stroke-width="0.5" style="font-kerning:none;white-space:pre">земля</text></g><g transform="translate(399.368,831.00) scale(0.8030,1)"><text x="0.000" y="0" font-family="Liberation Sans" font-size="29" fill="#000" stroke="#000" stroke-width="0.5" style="font-kerning:none;white-space:pre">» (</text></g><g transform="translate(426.542,831.00) scale(0.7626,1)"><text x="0.000" y="0" font-family="Liberation Sans" font-size="29" fill="#000" stroke="#000" stroke-width="0.5" style="font-kerning:none;white-space:pre">N</text></g><g transform="translate(442.512,831.00) scale(0.8030,1)"><text x="0.000" y="0" font-family="Liberation Sans" font-size="29" fill="#000" stroke="#000" stroke-width="0.5" style="font-kerning:none;white-space:pre"> «</text></g><g transform="translate(461.932,831.00) scale(0.7626,1)"><text x="0.000" y="0" font-family="Liberation Sans" font-size="29" fill="#000" stroke="#000" stroke-width="0.5" style="font-kerning:none;white-space:pre">ноль</text></g><g transform="translate(510.868,831.00) scale(0.8030,1)"><text x="0.000" y="0" font-family="Liberation Sans" font-size="29" fill="#000" stroke="#000" stroke-width="0.5" style="font-kerning:none;white-space:pre">») </text></g><g transform="translate(538.042,831.00) scale(0.7626,1)"><text x="0.000" y="0" font-family="Liberation Sans" font-size="29" fill="#000" stroke="#000" stroke-width="0.5" style="font-kerning:none;white-space:pre">на</text></g><g transform="translate(562.553,831.00) scale(0.8030,1)"><text x="0.000" y="0" font-family="Liberation Sans" font-size="29" fill="#000" stroke="#000" stroke-width="0.5" style="font-kerning:none;white-space:pre"> </text></g><g transform="translate(569.022,831.00) scale(0.7626,1)"><text x="0.000" y="0" font-family="Liberation Sans" font-size="29" fill="#000" stroke="#000" stroke-width="0.5" style="font-kerning:none;white-space:pre">двух</text></g><g transform="translate(615.787,831.00) scale(0.8030,1)"><text x="0.000" y="0" font-family="Liberation Sans" font-size="29" fill="#000" stroke="#000" stroke-width="0.5" style="font-kerning:none;white-space:pre"> </text></g><g transform="translate(622.257,831.00) scale(0.7626,1)"><text x="0.000" y="0" font-family="Liberation Sans" font-size="29" fill="#000" stroke="#000" stroke-width="0.5" style="font-kerning:none;white-space:pre">угловых</text></g><g transform="translate(705.281,831.00) scale(0.8030,1)"><text x="0.000" y="0" font-family="Liberation Sans" font-size="29" fill="#000" stroke="#000" stroke-width="0.5" style="font-kerning:none;white-space:pre"> </text></g><g transform="translate(711.751,831.00) scale(0.7626,1)"><text x="0.000" y="0" font-family="Liberation Sans" font-size="29" fill="#000" stroke="#000" stroke-width="0.5" style="font-kerning:none;white-space:pre">изоляторах</text></g>
<line x1="89.40" y1="873.60" x2="1164.20" y2="873.60" stroke="#2e2e2e" stroke-width="1.4" />
<line x1="89.40" y1="909.02" x2="1164.20" y2="909.02" stroke="#2e2e2e" stroke-width="1.4" />
<line x1="89.40" y1="944.44" x2="750.60" y2="944.44" stroke="#2e2e2e" stroke-width="1.4" />
<line x1="1034.50" y1="944.44" x2="1164.20" y2="944.44" stroke="#2e2e2e" stroke-width="1.4" />
<line x1="89.40" y1="979.86" x2="750.60" y2="979.86" stroke="#2e2e2e" stroke-width="1.4" />
<line x1="1034.50" y1="979.86" x2="1164.20" y2="979.86" stroke="#2e2e2e" stroke-width="1.4" />
<line x1="89.40" y1="1015.28" x2="750.60" y2="1015.28" stroke="#2e2e2e" stroke-width="1.4" />
<line x1="1034.50" y1="1015.28" x2="1164.20" y2="1015.28" stroke="#2e2e2e" stroke-width="1.4" />
<line x1="89.40" y1="1050.70" x2="750.60" y2="1050.70" stroke="#2e2e2e" stroke-width="1.4" />
<line x1="1034.50" y1="1050.70" x2="1164.20" y2="1050.70" stroke="#2e2e2e" stroke-width="1.4" />
<line x1="89.40" y1="1086.12" x2="750.60" y2="1086.12" stroke="#2e2e2e" stroke-width="1.4" />
<line x1="1034.50" y1="1086.12" x2="1164.20" y2="1086.12" stroke="#2e2e2e" stroke-width="1.4" />
<line x1="89.40" y1="1121.54" x2="750.60" y2="1121.54" stroke="#2e2e2e" stroke-width="1.4" />
<line x1="1034.50" y1="1121.54" x2="1164.20" y2="1121.54" stroke="#2e2e2e" stroke-width="1.4" />
<line x1="89.40" y1="1156.96" x2="750.60" y2="1156.96" stroke="#2e2e2e" stroke-width="1.4" />
<line x1="1034.50" y1="1156.96" x2="1164.20" y2="1156.96" stroke="#2e2e2e" stroke-width="1.4" />
<line x1="89.40" y1="1192.38" x2="750.60" y2="1192.38" stroke="#2e2e2e" stroke-width="1.4" />
<line x1="1034.50" y1="1192.38" x2="1164.20" y2="1192.38" stroke="#2e2e2e" stroke-width="1.4" />
<line x1="89.40" y1="1227.80" x2="750.60" y2="1227.80" stroke="#2e2e2e" stroke-width="1.4" />
<line x1="1034.50" y1="1227.80" x2="1164.20" y2="1227.80" stroke="#2e2e2e" stroke-width="1.4" />
<line x1="89.40" y1="1263.22" x2="750.60" y2="1263.22" stroke="#2e2e2e" stroke-width="1.4" />
<line x1="1034.50" y1="1263.22" x2="1164.20" y2="1263.22" stroke="#2e2e2e" stroke-width="1.4" />
<line x1="89.40" y1="1298.64" x2="1164.20" y2="1298.64" stroke="#2e2e2e" stroke-width="1.4" />
<line x1="89.40" y1="1334.06" x2="750.60" y2="1334.06" stroke="#2e2e2e" stroke-width="1.4" />
<line x1="1034.50" y1="1334.06" x2="1164.20" y2="1334.06" stroke="#2e2e2e" stroke-width="1.4" />
<line x1="89.40" y1="1369.48" x2="750.60" y2="1369.48" stroke="#2e2e2e" stroke-width="1.4" />
<line x1="1034.50" y1="1369.48" x2="1164.20" y2="1369.48" stroke="#2e2e2e" stroke-width="1.4" />
<line x1="89.40" y1="1404.90" x2="750.60" y2="1404.90" stroke="#2e2e2e" stroke-width="1.4" />
<line x1="1034.50" y1="1404.90" x2="1164.20" y2="1404.90" stroke="#2e2e2e" stroke-width="1.4" />
<line x1="89.40" y1="1440.32" x2="750.60" y2="1440.32" stroke="#2e2e2e" stroke-width="1.4" />
<line x1="1034.50" y1="1440.32" x2="1164.20" y2="1440.32" stroke="#2e2e2e" stroke-width="1.4" />
<line x1="89.40" y1="1475.74" x2="750.60" y2="1475.74" stroke="#2e2e2e" stroke-width="1.4" />
<line x1="1034.50" y1="1475.74" x2="1164.20" y2="1475.74" stroke="#2e2e2e" stroke-width="1.4" />
<line x1="89.40" y1="1511.16" x2="750.60" y2="1511.16" stroke="#2e2e2e" stroke-width="1.4" />
<line x1="1034.50" y1="1511.16" x2="1164.20" y2="1511.16" stroke="#2e2e2e" stroke-width="1.4" />
<line x1="89.40" y1="1546.58" x2="750.60" y2="1546.58" stroke="#2e2e2e" stroke-width="1.4" />
<line x1="1034.50" y1="1546.58" x2="1164.20" y2="1546.58" stroke="#2e2e2e" stroke-width="1.4" />
<line x1="89.40" y1="1582.00" x2="750.60" y2="1582.00" stroke="#2e2e2e" stroke-width="1.4" />
<line x1="1034.50" y1="1582.00" x2="1164.20" y2="1582.00" stroke="#2e2e2e" stroke-width="1.4" />
<line x1="89.40" y1="1617.42" x2="750.60" y2="1617.42" stroke="#2e2e2e" stroke-width="1.4" />
<line x1="1034.50" y1="1617.42" x2="1164.20" y2="1617.42" stroke="#2e2e2e" stroke-width="1.4" />
<line x1="89.40" y1="1652.84" x2="750.60" y2="1652.84" stroke="#2e2e2e" stroke-width="1.4" />
<line x1="1034.50" y1="1652.84" x2="1164.20" y2="1652.84" stroke="#2e2e2e" stroke-width="1.4" />
<line x1="89.40" y1="1688.26" x2="1164.20" y2="1688.26" stroke="#2e2e2e" stroke-width="1.4" />
<line x1="471.50" y1="873.60" x2="471.50" y2="1688.26" stroke="#2e2e2e" stroke-width="1.4" />
<line x1="616.40" y1="873.60" x2="616.40" y2="1688.26" stroke="#2e2e2e" stroke-width="1.4" />
<line x1="750.60" y1="873.60" x2="750.60" y2="1688.26" stroke="#2e2e2e" stroke-width="1.4" />
<line x1="845.20" y1="873.60" x2="845.20" y2="1688.26" stroke="#2e2e2e" stroke-width="1.4" />
<line x1="939.70" y1="873.60" x2="939.70" y2="1688.26" stroke="#2e2e2e" stroke-width="1.4" />
<line x1="1034.50" y1="873.60" x2="1034.50" y2="1688.26" stroke="#2e2e2e" stroke-width="1.4" />
<g transform="translate(95.300,899.10) scale(0.7550,1)"><text x="0.000" y="0" font-family="Liberation Sans" font-size="26" fill="#000" stroke="#000" stroke-width="0.5" style="font-kerning:none;white-space:pre">Тип</text></g><g transform="translate(128.886,899.10) scale(0.7950,1)"><text x="0.000" y="0" font-family="Liberation Sans" font-size="26" fill="#000" stroke="#000" stroke-width="0.5" style="font-kerning:none;white-space:pre"> </text></g><g transform="translate(134.628,899.10) scale(0.7550,1)"><text x="0.000" y="0" font-family="Liberation Sans" font-size="26" fill="#000" stroke="#000" stroke-width="0.5" style="font-kerning:none;white-space:pre">шины</text></g>
<g transform="translate(477.400,899.10) scale(0.7550,1)"><text x="0.000" y="0" font-family="Liberation Sans" font-size="26" fill="#000" stroke="#000" stroke-width="0.5" style="font-kerning:none;white-space:pre">L</text></g><g transform="translate(488.317,899.10) scale(0.7950,1)"><text x="0.000" y="0" font-family="Liberation Sans" font-size="26" fill="#000" stroke="#000" stroke-width="0.5" style="font-kerning:none;white-space:pre">, </text></g><g transform="translate(499.803,899.10) scale(0.7550,1)"><text x="0.000" y="0" font-family="Liberation Sans" font-size="26" fill="#000" stroke="#000" stroke-width="0.5" style="font-kerning:none;white-space:pre">мм</text></g>
<g transform="translate(622.300,899.10) scale(0.7550,1)"><text x="0.000" y="0" font-family="Liberation Sans" font-size="26" fill="#000" stroke="#000" stroke-width="0.5" style="font-kerning:none;white-space:pre">L</text></g><g transform="translate(633.217,899.10) scale(0.7950,1)"><text x="0.000" y="0" font-family="Liberation Sans" font-size="26" fill="#000" stroke="#000" stroke-width="0.5" style="font-kerning:none;white-space:pre"> , </text><use href="#g1" transform="translate(0.000,0) scale(26)" fill="#000" stroke="#000" stroke-width="0.0192"/></g><g transform="translate(656.199,899.10) scale(0.7550,1)"><text x="0.000" y="0" font-family="Liberation Sans" font-size="26" fill="#000" stroke="#000" stroke-width="0.5" style="font-kerning:none;white-space:pre">мм</text></g>
<g transform="translate(756.500,899.10) scale(0.7550,1)"><text x="0.000" y="0" font-family="Liberation Sans" font-size="26" fill="#000" stroke="#000" stroke-width="0.5" style="font-kerning:none;white-space:pre">H</text></g><g transform="translate(770.676,899.10) scale(0.7950,1)"><text x="0.000" y="0" font-family="Liberation Sans" font-size="26" fill="#000" stroke="#000" stroke-width="0.5" style="font-kerning:none;white-space:pre">, </text></g><g transform="translate(782.162,899.10) scale(0.7550,1)"><text x="0.000" y="0" font-family="Liberation Sans" font-size="26" fill="#000" stroke="#000" stroke-width="0.5" style="font-kerning:none;white-space:pre">мм</text></g>
<g transform="translate(851.100,899.10) scale(0.7550,1)"><text x="0.000" y="0" font-family="Liberation Sans" font-size="26" fill="#000" stroke="#000" stroke-width="0.5" style="font-kerning:none;white-space:pre">H</text></g><g transform="translate(865.276,899.10) scale(0.7950,1)"><text x="0.000" y="0" font-family="Liberation Sans" font-size="26" fill="#000" stroke="#000" stroke-width="0.5" style="font-kerning:none;white-space:pre"> , </text><use href="#g1" transform="translate(0.000,0) scale(26)" fill="#000" stroke="#000" stroke-width="0.0192"/></g><g transform="translate(888.257,899.10) scale(0.7550,1)"><text x="0.000" y="0" font-family="Liberation Sans" font-size="26" fill="#000" stroke="#000" stroke-width="0.5" style="font-kerning:none;white-space:pre">мм</text></g>
<g transform="translate(945.600,899.10) scale(0.7550,1)"><text x="0.000" y="0" font-family="Liberation Sans" font-size="26" fill="#000" stroke="#000" stroke-width="0.5" style="font-kerning:none;white-space:pre">B</text></g><g transform="translate(958.693,899.10) scale(0.7950,1)"><text x="0.000" y="0" font-family="Liberation Sans" font-size="26" fill="#000" stroke="#000" stroke-width="0.5" style="font-kerning:none;white-space:pre">, </text></g><g transform="translate(970.179,899.10) scale(0.7550,1)"><text x="0.000" y="0" font-family="Liberation Sans" font-size="26" fill="#000" stroke="#000" stroke-width="0.5" style="font-kerning:none;white-space:pre">мм</text></g>
<g transform="translate(1040.400,899.10) scale(0.7550,1)"><text x="0.000" y="0" font-family="Liberation Sans" font-size="26" fill="#000" stroke="#000" stroke-width="0.5" style="font-kerning:none;white-space:pre">Масса</text></g><g transform="translate(1098.216,899.10) scale(0.7950,1)"><text x="0.000" y="0" font-family="Liberation Sans" font-size="26" fill="#000" stroke="#000" stroke-width="0.5" style="font-kerning:none;white-space:pre">, </text></g><g transform="translate(1109.702,899.10) scale(0.7550,1)"><text x="0.000" y="0" font-family="Liberation Sans" font-size="26" fill="#000" stroke="#000" stroke-width="0.5" style="font-kerning:none;white-space:pre">гр</text></g>
<g transform="translate(95.300,934.72) scale(0.7550,1)"><text x="0.000" y="0" font-family="Liberation Sans" font-size="26" fill="#000" stroke="#000" stroke-width="0.5" style="font-kerning:none;white-space:pre">ШНИ</text></g><g transform="translate(141.576,934.72) scale(0.7950,1)"><text x="0.000" y="0" font-family="Liberation Sans" font-size="26" fill="#000" stroke="#000" stroke-width="0.5" style="font-kerning:none;white-space:pre">-6</text></g><g transform="translate(159.955,934.72) scale(0.7550,1)"><text x="0.000" y="0" font-family="Liberation Sans" font-size="26" fill="#000" stroke="#000" stroke-width="0.5" style="font-kerning:none;white-space:pre">х</text></g><g transform="translate(169.770,934.72) scale(0.7950,1)"><text x="0.000" y="0" font-family="Liberation Sans" font-size="26" fill="#000" stroke="#000" stroke-width="0.5" style="font-kerning:none;white-space:pre">9-4-</text></g><g transform="translate(206.528,934.72) scale(0.7550,1)"><text x="0.000" y="0" font-family="Liberation Sans" font-size="26" fill="#000" stroke="#000" stroke-width="0.5" style="font-kerning:none;white-space:pre">У</text></g><g transform="translate(218.998,934.72) scale(0.7950,1)"><text x="0.000" y="0" font-family="Liberation Sans" font-size="26" fill="#000" stroke="#000" stroke-width="0.5" style="font-kerning:none;white-space:pre">2</text></g>
<g transform="translate(477.400,934.72) scale(0.7950,1)"><text x="0.000" y="0" font-family="Liberation Sans" font-size="26" fill="#000" stroke="#000" stroke-width="0.5" style="font-kerning:none;white-space:pre">47...75</text></g>
<g transform="translate(622.300,934.72) scale(0.7950,1)"><text x="0.000" y="0" font-family="Liberation Sans" font-size="26" fill="#000" stroke="#000" stroke-width="0.5" style="font-kerning:none;white-space:pre">32...60</text></g>
<g transform="translate(756.500,934.72) scale(0.7950,1)"><text x="0.000" y="0" font-family="Liberation Sans" font-size="26" fill="#000" stroke="#000" stroke-width="0.5" style="font-kerning:none;white-space:pre">9</text></g>
<g transform="translate(851.100,934.72) scale(0.7950,1)"><text x="0.000" y="0" font-family="Liberation Sans" font-size="26" fill="#000" stroke="#000" stroke-width="0.5" style="font-kerning:none;white-space:pre">27,8</text></g>
<g transform="translate(945.600,934.72) scale(0.7950,1)"><text x="0.000" y="0" font-family="Liberation Sans" font-size="26" fill="#000" stroke="#000" stroke-width="0.5" style="font-kerning:none;white-space:pre">6</text></g>
<g transform="translate(1040.400,934.72) scale(0.7950,1)"><text x="0.000" y="0" font-family="Liberation Sans" font-size="26" fill="#000" stroke="#000" stroke-width="0.5" style="font-kerning:none;white-space:pre">25</text></g>
<g transform="translate(95.300,970.14) scale(0.7550,1)"><text x="0.000" y="0" font-family="Liberation Sans" font-size="26" fill="#000" stroke="#000" stroke-width="0.5" style="font-kerning:none;white-space:pre">ШНИ</text></g><g transform="translate(141.576,970.14) scale(0.7950,1)"><text x="0.000" y="0" font-family="Liberation Sans" font-size="26" fill="#000" stroke="#000" stroke-width="0.5" style="font-kerning:none;white-space:pre">-6</text></g><g transform="translate(159.955,970.14) scale(0.7550,1)"><text x="0.000" y="0" font-family="Liberation Sans" font-size="26" fill="#000" stroke="#000" stroke-width="0.5" style="font-kerning:none;white-space:pre">х</text></g><g transform="translate(169.770,970.14) scale(0.7950,1)"><text x="0.000" y="0" font-family="Liberation Sans" font-size="26" fill="#000" stroke="#000" stroke-width="0.5" style="font-kerning:none;white-space:pre">9-6-</text></g><g transform="translate(206.528,970.14) scale(0.7550,1)"><text x="0.000" y="0" font-family="Liberation Sans" font-size="26" fill="#000" stroke="#000" stroke-width="0.5" style="font-kerning:none;white-space:pre">У</text></g><g transform="translate(218.998,970.14) scale(0.7950,1)"><text x="0.000" y="0" font-family="Liberation Sans" font-size="26" fill="#000" stroke="#000" stroke-width="0.5" style="font-kerning:none;white-space:pre">2; </text></g><g transform="translate(241.979,970.14) scale(0.7550,1)"><text x="0.000" y="0" font-family="Liberation Sans" font-size="26" fill="#000" stroke="#000" stroke-width="0.5" style="font-kerning:none;white-space:pre">Ni</text></g><g transform="translate(260.517,970.14) scale(0.7950,1)"><text x="0.000" y="0" font-family="Liberation Sans" font-size="26" fill="#000" stroke="#000" stroke-width="0.5" style="font-kerning:none;white-space:pre"> </text></g><g transform="translate(266.259,970.14) scale(0.7550,1)"><text x="0.000" y="0" font-family="Liberation Sans" font-size="26" fill="#000" stroke="#000" stroke-width="0.5" style="font-kerning:none;white-space:pre">ШНИ</text></g><g transform="translate(312.536,970.14) scale(0.7950,1)"><text x="0.000" y="0" font-family="Liberation Sans" font-size="26" fill="#000" stroke="#000" stroke-width="0.5" style="font-kerning:none;white-space:pre">-6</text></g><g transform="translate(330.915,970.14) scale(0.7550,1)"><text x="0.000" y="0" font-family="Liberation Sans" font-size="26" fill="#000" stroke="#000" stroke-width="0.5" style="font-kerning:none;white-space:pre">х</text></g><g transform="translate(340.730,970.14) scale(0.7950,1)"><text x="0.000" y="0" font-family="Liberation Sans" font-size="26" fill="#000" stroke="#000" stroke-width="0.5" style="font-kerning:none;white-space:pre">9-6-</text></g><g transform="translate(377.487,970.14) scale(0.7550,1)"><text x="0.000" y="0" font-family="Liberation Sans" font-size="26" fill="#000" stroke="#000" stroke-width="0.5" style="font-kerning:none;white-space:pre">У</text></g><g transform="translate(389.957,970.14) scale(0.7950,1)"><text x="0.000" y="0" font-family="Liberation Sans" font-size="26" fill="#000" stroke="#000" stroke-width="0.5" style="font-kerning:none;white-space:pre">2</text></g>
<g transform="translate(477.400,970.14) scale(0.7950,1)"><text x="0.000" y="0" font-family="Liberation Sans" font-size="26" fill="#000" stroke="#000" stroke-width="0.5" style="font-kerning:none;white-space:pre">59...87</text></g>
<g transform="translate(622.300,970.14) scale(0.7950,1)"><text x="0.000" y="0" font-family="Liberation Sans" font-size="26" fill="#000" stroke="#000" stroke-width="0.5" style="font-kerning:none;white-space:pre">44...72</text></g>
<g transform="translate(1040.400,970.14) scale(0.7950,1)"><text x="0.000" y="0" font-family="Liberation Sans" font-size="26" fill="#000" stroke="#000" stroke-width="0.5" style="font-kerning:none;white-space:pre">30</text></g>
<g transform="translate(95.300,1005.56) scale(0.7550,1)"><text x="0.000" y="0" font-family="Liberation Sans" font-size="26" fill="#000" stroke="#000" stroke-width="0.5" style="font-kerning:none;white-space:pre">ШНИ</text></g><g transform="translate(141.576,1005.56) scale(0.7950,1)"><text x="0.000" y="0" font-family="Liberation Sans" font-size="26" fill="#000" stroke="#000" stroke-width="0.5" style="font-kerning:none;white-space:pre">-6</text></g><g transform="translate(159.955,1005.56) scale(0.7550,1)"><text x="0.000" y="0" font-family="Liberation Sans" font-size="26" fill="#000" stroke="#000" stroke-width="0.5" style="font-kerning:none;white-space:pre">х</text></g><g transform="translate(169.770,1005.56) scale(0.7950,1)"><text x="0.000" y="0" font-family="Liberation Sans" font-size="26" fill="#000" stroke="#000" stroke-width="0.5" style="font-kerning:none;white-space:pre">9-8-</text></g><g transform="translate(206.528,1005.56) scale(0.7550,1)"><text x="0.000" y="0" font-family="Liberation Sans" font-size="26" fill="#000" stroke="#000" stroke-width="0.5" style="font-kerning:none;white-space:pre">У</text></g><g transform="translate(218.998,1005.56) scale(0.7950,1)"><text x="0.000" y="0" font-family="Liberation Sans" font-size="26" fill="#000" stroke="#000" stroke-width="0.5" style="font-kerning:none;white-space:pre">2; </text></g><g transform="translate(241.979,1005.56) scale(0.7550,1)"><text x="0.000" y="0" font-family="Liberation Sans" font-size="26" fill="#000" stroke="#000" stroke-width="0.5" style="font-kerning:none;white-space:pre">Ni</text></g><g transform="translate(260.517,1005.56) scale(0.7950,1)"><text x="0.000" y="0" font-family="Liberation Sans" font-size="26" fill="#000" stroke="#000" stroke-width="0.5" style="font-kerning:none;white-space:pre"> </text></g><g transform="translate(266.259,1005.56) scale(0.7550,1)"><text x="0.000" y="0" font-family="Liberation Sans" font-size="26" fill="#000" stroke="#000" stroke-width="0.5" style="font-kerning:none;white-space:pre">ШНИ</text></g><g transform="translate(312.536,1005.56) scale(0.7950,1)"><text x="0.000" y="0" font-family="Liberation Sans" font-size="26" fill="#000" stroke="#000" stroke-width="0.5" style="font-kerning:none;white-space:pre">-6</text></g><g transform="translate(330.915,1005.56) scale(0.7550,1)"><text x="0.000" y="0" font-family="Liberation Sans" font-size="26" fill="#000" stroke="#000" stroke-width="0.5" style="font-kerning:none;white-space:pre">х</text></g><g transform="translate(340.730,1005.56) scale(0.7950,1)"><text x="0.000" y="0" font-family="Liberation Sans" font-size="26" fill="#000" stroke="#000" stroke-width="0.5" style="font-kerning:none;white-space:pre">9-8-</text></g><g transform="translate(377.487,1005.56) scale(0.7550,1)"><text x="0.000" y="0" font-family="Liberation Sans" font-size="26" fill="#000" stroke="#000" stroke-width="0.5" style="font-kerning:none;white-space:pre">У</text></g><g transform="translate(389.957,1005.56) scale(0.7950,1)"><text x="0.000" y="0" font-family="Liberation Sans" font-size="26" fill="#000" stroke="#000" stroke-width="0.5" style="font-kerning:none;white-space:pre">2</text></g>
<g transform="translate(477.400,1005.56) scale(0.7950,1)"><text x="0.000" y="0" font-family="Liberation Sans" font-size="26" fill="#000" stroke="#000" stroke-width="0.5" style="font-kerning:none;white-space:pre">7 ...99</text><use href="#g1" transform="translate(14.460,0) scale(26)" fill="#000" stroke="#000" stroke-width="0.0192"/></g>
<g transform="translate(622.300,1005.56) scale(0.7950,1)"><text x="0.000" y="0" font-family="Liberation Sans" font-size="26" fill="#000" stroke="#000" stroke-width="0.5" style="font-kerning:none;white-space:pre">56...84</text></g>
<g transform="translate(1040.400,1005.56) scale(0.7950,1)"><text x="0.000" y="0" font-family="Liberation Sans" font-size="26" fill="#000" stroke="#000" stroke-width="0.5" style="font-kerning:none;white-space:pre">35</text></g>
<g transform="translate(95.300,1040.98) scale(0.7550,1)"><text x="0.000" y="0" font-family="Liberation Sans" font-size="26" fill="#000" stroke="#000" stroke-width="0.5" style="font-kerning:none;white-space:pre">ШНИ</text></g><g transform="translate(141.576,1040.98) scale(0.7950,1)"><text x="0.000" y="0" font-family="Liberation Sans" font-size="26" fill="#000" stroke="#000" stroke-width="0.5" style="font-kerning:none;white-space:pre">-6</text></g><g transform="translate(159.955,1040.98) scale(0.7550,1)"><text x="0.000" y="0" font-family="Liberation Sans" font-size="26" fill="#000" stroke="#000" stroke-width="0.5" style="font-kerning:none;white-space:pre">х</text></g><g transform="translate(169.770,1040.98) scale(0.7950,1)"><text x="0.000" y="0" font-family="Liberation Sans" font-size="26" fill="#000" stroke="#000" stroke-width="0.5" style="font-kerning:none;white-space:pre">9- 0-</text><use href="#g1" transform="translate(23.118,0) scale(26)" fill="#000" stroke="#000" stroke-width="0.0192"/></g><g transform="translate(218.024,1040.98) scale(0.7550,1)"><text x="0.000" y="0" font-family="Liberation Sans" font-size="26" fill="#000" stroke="#000" stroke-width="0.5" style="font-kerning:none;white-space:pre">У</text></g><g transform="translate(230.494,1040.98) scale(0.7950,1)"><text x="0.000" y="0" font-family="Liberation Sans" font-size="26" fill="#000" stroke="#000" stroke-width="0.5" style="font-kerning:none;white-space:pre">2; </text></g><g transform="translate(253.475,1040.98) scale(0.7550,1)"><text x="0.000" y="0" font-family="Liberation Sans" font-size="26" fill="#000" stroke="#000" stroke-width="0.5" style="font-kerning:none;white-space:pre">Ni</text></g><g transform="translate(272.012,1040.98) scale(0.7950,1)"><text x="0.000" y="0" font-family="Liberation Sans" font-size="26" fill="#000" stroke="#000" stroke-width="0.5" style="font-kerning:none;white-space:pre"> </text></g><g transform="translate(277.755,1040.98) scale(0.7550,1)"><text x="0.000" y="0" font-family="Liberation Sans" font-size="26" fill="#000" stroke="#000" stroke-width="0.5" style="font-kerning:none;white-space:pre">ШНИ</text></g><g transform="translate(324.031,1040.98) scale(0.7950,1)"><text x="0.000" y="0" font-family="Liberation Sans" font-size="26" fill="#000" stroke="#000" stroke-width="0.5" style="font-kerning:none;white-space:pre">-6</text></g><g transform="translate(342.410,1040.98) scale(0.7550,1)"><text x="0.000" y="0" font-family="Liberation Sans" font-size="26" fill="#000" stroke="#000" stroke-width="0.5" style="font-kerning:none;white-space:pre">х</text></g><g transform="translate(352.225,1040.98) scale(0.7950,1)"><text x="0.000" y="0" font-family="Liberation Sans" font-size="26" fill="#000" stroke="#000" stroke-width="0.5" style="font-kerning:none;white-space:pre">9- 0-</text><use href="#g1" transform="translate(23.118,0) scale(26)" fill="#000" stroke="#000" stroke-width="0.0192"/></g><g transform="translate(400.479,1040.98) scale(0.7550,1)"><text x="0.000" y="0" font-family="Liberation Sans" font-size="26" fill="#000" stroke="#000" stroke-width="0.5" style="font-kerning:none;white-space:pre">У</text></g><g transform="translate(412.949,1040.98) scale(0.7950,1)"><text x="0.000" y="0" font-family="Liberation Sans" font-size="26" fill="#000" stroke="#000" stroke-width="0.5" style="font-kerning:none;white-space:pre">2</text></g>
<g transform="translate(477.400,1040.98) scale(0.7950,1)"><text x="0.000" y="0" font-family="Liberation Sans" font-size="26" fill="#000" stroke="#000" stroke-width="0.5" style="font-kerning:none;white-space:pre">83...   </text><use href="#g1" transform="translate(50.591,0) scale(26)" fill="#000" stroke="#000" stroke-width="0.0192"/><use href="#g1" transform="translate(65.051,0) scale(26)" fill="#000" stroke="#000" stroke-width="0.0192"/><use href="#g1" transform="translate(79.511,0) scale(26)" fill="#000" stroke="#000" stroke-width="0.0192"/></g>
<g transform="translate(622.300,1040.98) scale(0.7950,1)"><text x="0.000" y="0" font-family="Liberation Sans" font-size="26" fill="#000" stroke="#000" stroke-width="0.5" style="font-kerning:none;white-space:pre">68...96</text></g>
<g transform="translate(1040.400,1040.98) scale(0.7950,1)"><text x="0.000" y="0" font-family="Liberation Sans" font-size="26" fill="#000" stroke="#000" stroke-width="0.5" style="font-kerning:none;white-space:pre">4 </text><use href="#g1" transform="translate(14.460,0) scale(26)" fill="#000" stroke="#000" stroke-width="0.0192"/></g>
<g transform="translate(95.300,1076.40) scale(0.7550,1)"><text x="0.000" y="0" font-family="Liberation Sans" font-size="26" fill="#000" stroke="#000" stroke-width="0.5" style="font-kerning:none;white-space:pre">ШНИ</text></g><g transform="translate(141.576,1076.40) scale(0.7950,1)"><text x="0.000" y="0" font-family="Liberation Sans" font-size="26" fill="#000" stroke="#000" stroke-width="0.5" style="font-kerning:none;white-space:pre">-6</text></g><g transform="translate(159.955,1076.40) scale(0.7550,1)"><text x="0.000" y="0" font-family="Liberation Sans" font-size="26" fill="#000" stroke="#000" stroke-width="0.5" style="font-kerning:none;white-space:pre">х</text></g><g transform="translate(169.770,1076.40) scale(0.7950,1)"><text x="0.000" y="0" font-family="Liberation Sans" font-size="26" fill="#000" stroke="#000" stroke-width="0.5" style="font-kerning:none;white-space:pre">9- 2-</text><use href="#g1" transform="translate(23.118,0) scale(26)" fill="#000" stroke="#000" stroke-width="0.0192"/></g><g transform="translate(218.024,1076.40) scale(0.7550,1)"><text x="0.000" y="0" font-family="Liberation Sans" font-size="26" fill="#000" stroke="#000" stroke-width="0.5" style="font-kerning:none;white-space:pre">У</text></g><g transform="translate(230.494,1076.40) scale(0.7950,1)"><text x="0.000" y="0" font-family="Liberation Sans" font-size="26" fill="#000" stroke="#000" stroke-width="0.5" style="font-kerning:none;white-space:pre">2; </text></g><g transform="translate(253.475,1076.40) scale(0.7550,1)"><text x="0.000" y="0" font-family="Liberation Sans" font-size="26" fill="#000" stroke="#000" stroke-width="0.5" style="font-kerning:none;white-space:pre">Ni</text></g><g transform="translate(272.012,1076.40) scale(0.7950,1)"><text x="0.000" y="0" font-family="Liberation Sans" font-size="26" fill="#000" stroke="#000" stroke-width="0.5" style="font-kerning:none;white-space:pre"> </text></g><g transform="translate(277.755,1076.40) scale(0.7550,1)"><text x="0.000" y="0" font-family="Liberation Sans" font-size="26" fill="#000" stroke="#000" stroke-width="0.5" style="font-kerning:none;white-space:pre">ШНИ</text></g><g transform="translate(324.031,1076.40) scale(0.7950,1)"><text x="0.000" y="0" font-family="Liberation Sans" font-size="26" fill="#000" stroke="#000" stroke-width="0.5" style="font-kerning:none;white-space:pre">-6</text></g><g transform="translate(342.410,1076.40) scale(0.7550,1)"><text x="0.000" y="0" font-family="Liberation Sans" font-size="26" fill="#000" stroke="#000" stroke-width="0.5" style="font-kerning:none;white-space:pre">х</text></g><g transform="translate(352.225,1076.40) scale(0.7950,1)"><text x="0.000" y="0" font-family="Liberation Sans" font-size="26" fill="#000" stroke="#000" stroke-width="0.5" style="font-kerning:none;white-space:pre">9- 2-</text><use href="#g1" transform="translate(23.118,0) scale(26)" fill="#000" stroke="#000" stroke-width="0.0192"/></g><g transform="translate(400.479,1076.40) scale(0.7550,1)"><text x="0.000" y="0" font-family="Liberation Sans" font-size="26" fill="#000" stroke="#000" stroke-width="0.5" style="font-kerning:none;white-space:pre">У</text></g><g transform="translate(412.949,1076.40) scale(0.7950,1)"><text x="0.000" y="0" font-family="Liberation Sans" font-size="26" fill="#000" stroke="#000" stroke-width="0.5" style="font-kerning:none;white-space:pre">2</text></g>
<g transform="translate(477.400,1076.40) scale(0.7950,1)"><text x="0.000" y="0" font-family="Liberation Sans" font-size="26" fill="#000" stroke="#000" stroke-width="0.5" style="font-kerning:none;white-space:pre">95... 23</text><use href="#g1" transform="translate(50.591,0) scale(26)" fill="#000" stroke="#000" stroke-width="0.0192"/></g>
<g transform="translate(622.300,1076.40) scale(0.7950,1)"><text x="0.000" y="0" font-family="Liberation Sans" font-size="26" fill="#000" stroke="#000" stroke-width="0.5" style="font-kerning:none;white-space:pre">80... 08</text><use href="#g1" transform="translate(50.591,0) scale(26)" fill="#000" stroke="#000" stroke-width="0.0192"/></g>
<g transform="translate(1040.400,1076.40) scale(0.7950,1)"><text x="0.000" y="0" font-family="Liberation Sans" font-size="26" fill="#000" stroke="#000" stroke-width="0.5" style="font-kerning:none;white-space:pre">46</text></g>
<g transform="translate(95.300,1111.82) scale(0.7550,1)"><text x="0.000" y="0" font-family="Liberation Sans" font-size="26" fill="#000" stroke="#000" stroke-width="0.5" style="font-kerning:none;white-space:pre">ШНИ</text></g><g transform="translate(141.576,1111.82) scale(0.7950,1)"><text x="0.000" y="0" font-family="Liberation Sans" font-size="26" fill="#000" stroke="#000" stroke-width="0.5" style="font-kerning:none;white-space:pre">-6</text></g><g transform="translate(159.955,1111.82) scale(0.7550,1)"><text x="0.000" y="0" font-family="Liberation Sans" font-size="26" fill="#000" stroke="#000" stroke-width="0.5" style="font-kerning:none;white-space:pre">х</text></g><g transform="translate(169.770,1111.82) scale(0.7950,1)"><text x="0.000" y="0" font-family="Liberation Sans" font-size="26" fill="#000" stroke="#000" stroke-width="0.5" style="font-kerning:none;white-space:pre">9- 4-</text><use href="#g1" transform="translate(23.118,0) scale(26)" fill="#000" stroke="#000" stroke-width="0.0192"/></g><g transform="translate(218.024,1111.82) scale(0.7550,1)"><text x="0.000" y="0" font-family="Liberation Sans" font-size="26" fill="#000" stroke="#000" stroke-width="0.5" style="font-kerning:none;white-space:pre">У</text></g><g transform="translate(230.494,1111.82) scale(0.7950,1)"><text x="0.000" y="0" font-family="Liberation Sans" font-size="26" fill="#000" stroke="#000" stroke-width="0.5" style="font-kerning:none;white-space:pre">2; </text></g><g transform="translate(253.475,1111.82) scale(0.7550,1)"><text x="0.000" y="0" font-family="Liberation Sans" font-size="26" fill="#000" stroke="#000" stroke-width="0.5" style="font-kerning:none;white-space:pre">Ni</text></g><g transform="translate(272.012,1111.82) scale(0.7950,1)"><text x="0.000" y="0" font-family="Liberation Sans" font-size="26" fill="#000" stroke="#000" stroke-width="0.5" style="font-kerning:none;white-space:pre"> </text></g><g transform="translate(277.755,1111.82) scale(0.7550,1)"><text x="0.000" y="0" font-family="Liberation Sans" font-size="26" fill="#000" stroke="#000" stroke-width="0.5" style="font-kerning:none;white-space:pre">ШНИ</text></g><g transform="translate(324.031,1111.82) scale(0.7950,1)"><text x="0.000" y="0" font-family="Liberation Sans" font-size="26" fill="#000" stroke="#000" stroke-width="0.5" style="font-kerning:none;white-space:pre">-6</text></g><g transform="translate(342.410,1111.82) scale(0.7550,1)"><text x="0.000" y="0" font-family="Liberation Sans" font-size="26" fill="#000" stroke="#000" stroke-width="0.5" style="font-kerning:none;white-space:pre">х</text></g><g transform="translate(352.225,1111.82) scale(0.7950,1)"><text x="0.000" y="0" font-family="Liberation Sans" font-size="26" fill="#000" stroke="#000" stroke-width="0.5" style="font-kerning:none;white-space:pre">9- 4-</text><use href="#g1" transform="translate(23.118,0) scale(26)" fill="#000" stroke="#000" stroke-width="0.0192"/></g><g transform="translate(400.479,1111.82) scale(0.7550,1)"><text x="0.000" y="0" font-family="Liberation Sans" font-size="26" fill="#000" stroke="#000" stroke-width="0.5" style="font-kerning:none;white-space:pre">У</text></g><g transform="translate(412.949,1111.82) scale(0.7950,1)"><text x="0.000" y="0" font-family="Liberation Sans" font-size="26" fill="#000" stroke="#000" stroke-width="0.5" style="font-kerning:none;white-space:pre">2</text></g>
<g transform="translate(477.400,1111.82) scale(0.7950,1)"><text x="0.000" y="0" font-family="Liberation Sans" font-size="26" fill="#000" stroke="#000" stroke-width="0.5" style="font-kerning:none;white-space:pre"> 07... 35</text><use href="#g1" transform="translate(0.000,0) scale(26)" fill="#000" stroke="#000" stroke-width="0.0192"/><use href="#g1" transform="translate(65.051,0) scale(26)" fill="#000" stroke="#000" stroke-width="0.0192"/></g>
<g transform="translate(622.300,1111.82) scale(0.7950,1)"><text x="0.000" y="0" font-family="Liberation Sans" font-size="26" fill="#000" stroke="#000" stroke-width="0.5" style="font-kerning:none;white-space:pre">92... 20</text><use href="#g1" transform="translate(50.591,0) scale(26)" fill="#000" stroke="#000" stroke-width="0.0192"/></g>
<g transform="translate(1040.400,1111.82) scale(0.7950,1)"><text x="0.000" y="0" font-family="Liberation Sans" font-size="26" fill="#000" stroke="#000" stroke-width="0.5" style="font-kerning:none;white-space:pre">52</text></g>
<g transform="translate(95.300,1147.24) scale(0.7550,1)"><text x="0.000" y="0" font-family="Liberation Sans" font-size="26" fill="#000" stroke="#000" stroke-width="0.5" style="font-kerning:none;white-space:pre">ШНИ</text></g><g transform="translate(141.576,1147.24) scale(0.7950,1)"><text x="0.000" y="0" font-family="Liberation Sans" font-size="26" fill="#000" stroke="#000" stroke-width="0.5" style="font-kerning:none;white-space:pre">-6</text></g><g transform="translate(159.955,1147.24) scale(0.7550,1)"><text x="0.000" y="0" font-family="Liberation Sans" font-size="26" fill="#000" stroke="#000" stroke-width="0.5" style="font-kerning:none;white-space:pre">х</text></g><g transform="translate(169.770,1147.24) scale(0.7950,1)"><text x="0.000" y="0" font-family="Liberation Sans" font-size="26" fill="#000" stroke="#000" stroke-width="0.5" style="font-kerning:none;white-space:pre">9- 6-</text><use href="#g1" transform="translate(23.118,0) scale(26)" fill="#000" stroke="#000" stroke-width="0.0192"/></g><g transform="translate(218.024,1147.24) scale(0.7550,1)"><text x="0.000" y="0" font-family="Liberation Sans" font-size="26" fill="#000" stroke="#000" stroke-width="0.5" style="font-kerning:none;white-space:pre">У</text></g><g transform="translate(230.494,1147.24) scale(0.7950,1)"><text x="0.000" y="0" font-family="Liberation Sans" font-size="26" fill="#000" stroke="#000" stroke-width="0.5" style="font-kerning:none;white-space:pre">2</text></g>
<g transform="translate(477.400,1147.24) scale(0.7950,1)"><text x="0.000" y="0" font-family="Liberation Sans" font-size="26" fill="#000" stroke="#000" stroke-width="0.5" style="font-kerning:none;white-space:pre">  9... 47</text><use href="#g1" transform="translate(0.000,0) scale(26)" fill="#000" stroke="#000" stroke-width="0.0192"/><use href="#g1" transform="translate(14.460,0) scale(26)" fill="#000" stroke="#000" stroke-width="0.0192"/><use href="#g1" transform="translate(65.051,0) scale(26)" fill="#000" stroke="#000" stroke-width="0.0192"/></g>
<g transform="translate(622.300,1147.24) scale(0.7950,1)"><text x="0.000" y="0" font-family="Liberation Sans" font-size="26" fill="#000" stroke="#000" stroke-width="0.5" style="font-kerning:none;white-space:pre"> 04... 32</text><use href="#g1" transform="translate(0.000,0) scale(26)" fill="#000" stroke="#000" stroke-width="0.0192"/><use href="#g1" transform="translate(65.051,0) scale(26)" fill="#000" stroke="#000" stroke-width="0.0192"/></g>
<g transform="translate(1040.400,1147.24) scale(0.7950,1)"><text x="0.000" y="0" font-family="Liberation Sans" font-size="26" fill="#000" stroke="#000" stroke-width="0.5" style="font-kerning:none;white-space:pre">57</text></g>
<g transform="translate(95.300,1182.66) scale(0.7550,1)"><text x="0.000" y="0" font-family="Liberation Sans" font-size="26" fill="#000" stroke="#000" stroke-width="0.5" style="font-kerning:none;white-space:pre">ШНИ</text></g><g transform="translate(141.576,1182.66) scale(0.7950,1)"><text x="0.000" y="0" font-family="Liberation Sans" font-size="26" fill="#000" stroke="#000" stroke-width="0.5" style="font-kerning:none;white-space:pre">-6</text></g><g transform="translate(159.955,1182.66) scale(0.7550,1)"><text x="0.000" y="0" font-family="Liberation Sans" font-size="26" fill="#000" stroke="#000" stroke-width="0.5" style="font-kerning:none;white-space:pre">х</text></g><g transform="translate(169.770,1182.66) scale(0.7950,1)"><text x="0.000" y="0" font-family="Liberation Sans" font-size="26" fill="#000" stroke="#000" stroke-width="0.5" style="font-kerning:none;white-space:pre">9- 8-</text><use href="#g1" transform="translate(23.118,0) scale(26)" fill="#000" stroke="#000" stroke-width="0.0192"/></g><g transform="translate(218.024,1182.66) scale(0.7550,1)"><text x="0.000" y="0" font-family="Liberation Sans" font-size="26" fill="#000" stroke="#000" stroke-width="0.5" style="font-kerning:none;white-space:pre">У</text></g><g transform="translate(230.494,1182.66) scale(0.7950,1)"><text x="0.000" y="0" font-family="Liberation Sans" font-size="26" fill="#000" stroke="#000" stroke-width="0.5" style="font-kerning:none;white-space:pre">2</text></g>
<g transform="translate(477.400,1182.66) scale(0.7950,1)"><text x="0.000" y="0" font-family="Liberation Sans" font-size="26" fill="#000" stroke="#000" stroke-width="0.5" style="font-kerning:none;white-space:pre"> 3 ... 59</text><use href="#g1" transform="translate(0.000,0) scale(26)" fill="#000" stroke="#000" stroke-width="0.0192"/><use href="#g1" transform="translate(28.920,0) scale(26)" fill="#000" stroke="#000" stroke-width="0.0192"/><use href="#g1" transform="translate(65.051,0) scale(26)" fill="#000" stroke="#000" stroke-width="0.0192"/></g>
<g transform="translate(622.300,1182.66) scale(0.7950,1)"><text x="0.000" y="0" font-family="Liberation Sans" font-size="26" fill="#000" stroke="#000" stroke-width="0.5" style="font-kerning:none;white-space:pre">  6... 44</text><use href="#g1" transform="translate(0.000,0) scale(26)" fill="#000" stroke="#000" stroke-width="0.0192"/><use href="#g1" transform="translate(14.460,0) scale(26)" fill="#000" stroke="#000" stroke-width="0.0192"/><use href="#g1" transform="translate(65.051,0) scale(26)" fill="#000" stroke="#000" stroke-width="0.0192"/></g>
<g transform="translate(1040.400,1182.66) scale(0.7950,1)"><text x="0.000" y="0" font-family="Liberation Sans" font-size="26" fill="#000" stroke="#000" stroke-width="0.5" style="font-kerning:none;white-space:pre">63</text></g>
<g transform="translate(95.300,1218.08) scale(0.7550,1)"><text x="0.000" y="0" font-family="Liberation Sans" font-size="26" fill="#000" stroke="#000" stroke-width="0.5" style="font-kerning:none;white-space:pre">ШНИ</text></g><g transform="translate(141.576,1218.08) scale(0.7950,1)"><text x="0.000" y="0" font-family="Liberation Sans" font-size="26" fill="#000" stroke="#000" stroke-width="0.5" style="font-kerning:none;white-space:pre">-6</text></g><g transform="translate(159.955,1218.08) scale(0.7550,1)"><text x="0.000" y="0" font-family="Liberation Sans" font-size="26" fill="#000" stroke="#000" stroke-width="0.5" style="font-kerning:none;white-space:pre">х</text></g><g transform="translate(169.770,1218.08) scale(0.7950,1)"><text x="0.000" y="0" font-family="Liberation Sans" font-size="26" fill="#000" stroke="#000" stroke-width="0.5" style="font-kerning:none;white-space:pre">9-20-</text></g><g transform="translate(218.024,1218.08) scale(0.7550,1)"><text x="0.000" y="0" font-family="Liberation Sans" font-size="26" fill="#000" stroke="#000" stroke-width="0.5" style="font-kerning:none;white-space:pre">У</text></g><g transform="translate(230.494,1218.08) scale(0.7950,1)"><text x="0.000" y="0" font-family="Liberation Sans" font-size="26" fill="#000" stroke="#000" stroke-width="0.5" style="font-kerning:none;white-space:pre">2; </text></g><g transform="translate(253.475,1218.08) scale(0.7550,1)"><text x="0.000" y="0" font-family="Liberation Sans" font-size="26" fill="#000" stroke="#000" stroke-width="0.5" style="font-kerning:none;white-space:pre">Ni</text></g><g transform="translate(272.012,1218.08) scale(0.7950,1)"><text x="0.000" y="0" font-family="Liberation Sans" font-size="26" fill="#000" stroke="#000" stroke-width="0.5" style="font-kerning:none;white-space:pre"> </text></g><g transform="translate(277.755,1218.08) scale(0.7550,1)"><text x="0.000" y="0" font-family="Liberation Sans" font-size="26" fill="#000" stroke="#000" stroke-width="0.5" style="font-kerning:none;white-space:pre">ШНИ</text></g><g transform="translate(324.031,1218.08) scale(0.7950,1)"><text x="0.000" y="0" font-family="Liberation Sans" font-size="26" fill="#000" stroke="#000" stroke-width="0.5" style="font-kerning:none;white-space:pre">-6</text></g><g transform="translate(342.410,1218.08) scale(0.7550,1)"><text x="0.000" y="0" font-family="Liberation Sans" font-size="26" fill="#000" stroke="#000" stroke-width="0.5" style="font-kerning:none;white-space:pre">х</text></g><g transform="translate(352.225,1218.08) scale(0.7950,1)"><text x="0.000" y="0" font-family="Liberation Sans" font-size="26" fill="#000" stroke="#000" stroke-width="0.5" style="font-kerning:none;white-space:pre">9-20-</text></g><g transform="translate(400.479,1218.08) scale(0.7550,1)"><text x="0.000" y="0" font-family="Liberation Sans" font-size="26" fill="#000" stroke="#000" stroke-width="0.5" style="font-kerning:none;white-space:pre">У</text></g><g transform="translate(412.949,1218.08) scale(0.7950,1)"><text x="0.000" y="0" font-family="Liberation Sans" font-size="26" fill="#000" stroke="#000" stroke-width="0.5" style="font-kerning:none;white-space:pre">2</text></g>
<g transform="translate(477.400,1218.08) scale(0.7950,1)"><text x="0.000" y="0" font-family="Liberation Sans" font-size="26" fill="#000" stroke="#000" stroke-width="0.5" style="font-kerning:none;white-space:pre"> 43... 7 </text><use href="#g1" transform="translate(0.000,0) scale(26)" fill="#000" stroke="#000" stroke-width="0.0192"/><use href="#g1" transform="translate(65.051,0) scale(26)" fill="#000" stroke="#000" stroke-width="0.0192"/><use href="#g1" transform="translate(93.971,0) scale(26)" fill="#000" stroke="#000" stroke-width="0.0192"/></g>
<g transform="translate(622.300,1218.08) scale(0.7950,1)"><text x="0.000" y="0" font-family="Liberation Sans" font-size="26" fill="#000" stroke="#000" stroke-width="0.5" style="font-kerning:none;white-space:pre"> 28... 56</text><use href="#g1" transform="translate(0.000,0) scale(26)" fill="#000" stroke="#000" stroke-width="0.0192"/><use href="#g1" transform="translate(65.051,0) scale(26)" fill="#000" stroke="#000" stroke-width="0.0192"/></g>
<g transform="translate(1040.400,1218.08) scale(0.7950,1)"><text x="0.000" y="0" font-family="Liberation Sans" font-size="26" fill="#000" stroke="#000" stroke-width="0.5" style="font-kerning:none;white-space:pre">70</text></g>
<g transform="translate(95.300,1253.50) scale(0.7550,1)"><text x="0.000" y="0" font-family="Liberation Sans" font-size="26" fill="#000" stroke="#000" stroke-width="0.5" style="font-kerning:none;white-space:pre">ШНИ</text></g><g transform="translate(141.576,1253.50) scale(0.7950,1)"><text x="0.000" y="0" font-family="Liberation Sans" font-size="26" fill="#000" stroke="#000" stroke-width="0.5" style="font-kerning:none;white-space:pre">-6</text></g><g transform="translate(159.955,1253.50) scale(0.7550,1)"><text x="0.000" y="0" font-family="Liberation Sans" font-size="26" fill="#000" stroke="#000" stroke-width="0.5" style="font-kerning:none;white-space:pre">х</text></g><g transform="translate(169.770,1253.50) scale(0.7950,1)"><text x="0.000" y="0" font-family="Liberation Sans" font-size="26" fill="#000" stroke="#000" stroke-width="0.5" style="font-kerning:none;white-space:pre">9-22-</text></g><g transform="translate(218.024,1253.50) scale(0.7550,1)"><text x="0.000" y="0" font-family="Liberation Sans" font-size="26" fill="#000" stroke="#000" stroke-width="0.5" style="font-kerning:none;white-space:pre">У</text></g><g transform="translate(230.494,1253.50) scale(0.7950,1)"><text x="0.000" y="0" font-family="Liberation Sans" font-size="26" fill="#000" stroke="#000" stroke-width="0.5" style="font-kerning:none;white-space:pre">2</text></g>
<g transform="translate(477.400,1253.50) scale(0.7950,1)"><text x="0.000" y="0" font-family="Liberation Sans" font-size="26" fill="#000" stroke="#000" stroke-width="0.5" style="font-kerning:none;white-space:pre"> 55... 83</text><use href="#g1" transform="translate(0.000,0) scale(26)" fill="#000" stroke="#000" stroke-width="0.0192"/><use href="#g1" transform="translate(65.051,0) scale(26)" fill="#000" stroke="#000" stroke-width="0.0192"/></g>
<g transform="translate(622.300,1253.50) scale(0.7950,1)"><text x="0.000" y="0" font-family="Liberation Sans" font-size="26" fill="#000" stroke="#000" stroke-width="0.5" style="font-kerning:none;white-space:pre"> 40... 68</text><use href="#g1" transform="translate(0.000,0) scale(26)" fill="#000" stroke="#000" stroke-width="0.0192"/><use href="#g1" transform="translate(65.051,0) scale(26)" fill="#000" stroke="#000" stroke-width="0.0192"/></g>
<g transform="translate(1040.400,1253.50) scale(0.7950,1)"><text x="0.000" y="0" font-family="Liberation Sans" font-size="26" fill="#000" stroke="#000" stroke-width="0.5" style="font-kerning:none;white-space:pre">73</text></g>
<g transform="translate(95.300,1288.92) scale(0.7550,1)"><text x="0.000" y="0" font-family="Liberation Sans" font-size="26" fill="#000" stroke="#000" stroke-width="0.5" style="font-kerning:none;white-space:pre">ШНИ</text></g><g transform="translate(141.576,1288.92) scale(0.7950,1)"><text x="0.000" y="0" font-family="Liberation Sans" font-size="26" fill="#000" stroke="#000" stroke-width="0.5" style="font-kerning:none;white-space:pre">-6</text></g><g transform="translate(159.955,1288.92) scale(0.7550,1)"><text x="0.000" y="0" font-family="Liberation Sans" font-size="26" fill="#000" stroke="#000" stroke-width="0.5" style="font-kerning:none;white-space:pre">х</text></g><g transform="translate(169.770,1288.92) scale(0.7950,1)"><text x="0.000" y="0" font-family="Liberation Sans" font-size="26" fill="#000" stroke="#000" stroke-width="0.5" style="font-kerning:none;white-space:pre">9-24-</text></g><g transform="translate(218.024,1288.92) scale(0.7550,1)"><text x="0.000" y="0" font-family="Liberation Sans" font-size="26" fill="#000" stroke="#000" stroke-width="0.5" style="font-kerning:none;white-space:pre">У</text></g><g transform="translate(230.494,1288.92) scale(0.7950,1)"><text x="0.000" y="0" font-family="Liberation Sans" font-size="26" fill="#000" stroke="#000" stroke-width="0.5" style="font-kerning:none;white-space:pre">2; </text></g><g transform="translate(253.475,1288.92) scale(0.7550,1)"><text x="0.000" y="0" font-family="Liberation Sans" font-size="26" fill="#000" stroke="#000" stroke-width="0.5" style="font-kerning:none;white-space:pre">Ni</text></g><g transform="translate(272.012,1288.92) scale(0.7950,1)"><text x="0.000" y="0" font-family="Liberation Sans" font-size="26" fill="#000" stroke="#000" stroke-width="0.5" style="font-kerning:none;white-space:pre"> </text></g><g transform="translate(277.755,1288.92) scale(0.7550,1)"><text x="0.000" y="0" font-family="Liberation Sans" font-size="26" fill="#000" stroke="#000" stroke-width="0.5" style="font-kerning:none;white-space:pre">ШНИ</text></g><g transform="translate(324.031,1288.92) scale(0.7950,1)"><text x="0.000" y="0" font-family="Liberation Sans" font-size="26" fill="#000" stroke="#000" stroke-width="0.5" style="font-kerning:none;white-space:pre">-6</text></g><g transform="translate(342.410,1288.92) scale(0.7550,1)"><text x="0.000" y="0" font-family="Liberation Sans" font-size="26" fill="#000" stroke="#000" stroke-width="0.5" style="font-kerning:none;white-space:pre">х</text></g><g transform="translate(352.225,1288.92) scale(0.7950,1)"><text x="0.000" y="0" font-family="Liberation Sans" font-size="26" fill="#000" stroke="#000" stroke-width="0.5" style="font-kerning:none;white-space:pre">9-24-</text></g><g transform="translate(400.479,1288.92) scale(0.7550,1)"><text x="0.000" y="0" font-family="Liberation Sans" font-size="26" fill="#000" stroke="#000" stroke-width="0.5" style="font-kerning:none;white-space:pre">У</text></g><g transform="translate(412.949,1288.92) scale(0.7950,1)"><text x="0.000" y="0" font-family="Liberation Sans" font-size="26" fill="#000" stroke="#000" stroke-width="0.5" style="font-kerning:none;white-space:pre">2</text></g>
<g transform="translate(477.400,1288.92) scale(0.7950,1)"><text x="0.000" y="0" font-family="Liberation Sans" font-size="26" fill="#000" stroke="#000" stroke-width="0.5" style="font-kerning:none;white-space:pre"> 67... 95</text><use href="#g1" transform="translate(0.000,0) scale(26)" fill="#000" stroke="#000" stroke-width="0.0192"/><use href="#g1" transform="translate(65.051,0) scale(26)" fill="#000" stroke="#000" stroke-width="0.0192"/></g>
<g transform="translate(622.300,1288.92) scale(0.7950,1)"><text x="0.000" y="0" font-family="Liberation Sans" font-size="26" fill="#000" stroke="#000" stroke-width="0.5" style="font-kerning:none;white-space:pre"> 52... 80</text><use href="#g1" transform="translate(0.000,0) scale(26)" fill="#000" stroke="#000" stroke-width="0.0192"/><use href="#g1" transform="translate(65.051,0) scale(26)" fill="#000" stroke="#000" stroke-width="0.0192"/></g>
<g transform="translate(1040.400,1288.92) scale(0.7950,1)"><text x="0.000" y="0" font-family="Liberation Sans" font-size="26" fill="#000" stroke="#000" stroke-width="0.5" style="font-kerning:none;white-space:pre">79</text></g>
<g transform="translate(95.300,1324.34) scale(0.7550,1)"><text x="0.000" y="0" font-family="Liberation Sans" font-size="26" fill="#000" stroke="#000" stroke-width="0.5" style="font-kerning:none;white-space:pre">ШНИ</text></g><g transform="translate(141.576,1324.34) scale(0.7950,1)"><text x="0.000" y="0" font-family="Liberation Sans" font-size="26" fill="#000" stroke="#000" stroke-width="0.5" style="font-kerning:none;white-space:pre">-8</text></g><g transform="translate(159.955,1324.34) scale(0.7550,1)"><text x="0.000" y="0" font-family="Liberation Sans" font-size="26" fill="#000" stroke="#000" stroke-width="0.5" style="font-kerning:none;white-space:pre">х</text></g><g transform="translate(169.770,1324.34) scale(0.7950,1)"><text x="0.000" y="0" font-family="Liberation Sans" font-size="26" fill="#000" stroke="#000" stroke-width="0.5" style="font-kerning:none;white-space:pre"> 2-4-</text><use href="#g1" transform="translate(0.000,0) scale(26)" fill="#000" stroke="#000" stroke-width="0.0192"/></g><g transform="translate(218.024,1324.34) scale(0.7550,1)"><text x="0.000" y="0" font-family="Liberation Sans" font-size="26" fill="#000" stroke="#000" stroke-width="0.5" style="font-kerning:none;white-space:pre">У</text></g><g transform="translate(230.494,1324.34) scale(0.7950,1)"><text x="0.000" y="0" font-family="Liberation Sans" font-size="26" fill="#000" stroke="#000" stroke-width="0.5" style="font-kerning:none;white-space:pre">2</text></g>
<g transform="translate(477.400,1324.34) scale(0.7950,1)"><text x="0.000" y="0" font-family="Liberation Sans" font-size="26" fill="#000" stroke="#000" stroke-width="0.5" style="font-kerning:none;white-space:pre">54...82</text></g>
<g transform="translate(622.300,1324.34) scale(0.7950,1)"><text x="0.000" y="0" font-family="Liberation Sans" font-size="26" fill="#000" stroke="#000" stroke-width="0.5" style="font-kerning:none;white-space:pre">39...67</text></g>
<g transform="translate(756.500,1324.34) scale(0.7950,1)"><text x="0.000" y="0" font-family="Liberation Sans" font-size="26" fill="#000" stroke="#000" stroke-width="0.5" style="font-kerning:none;white-space:pre"> 2</text><use href="#g1" transform="translate(0.000,0) scale(26)" fill="#000" stroke="#000" stroke-width="0.0192"/></g>
<g transform="translate(851.100,1324.34) scale(0.7950,1)"><text x="0.000" y="0" font-family="Liberation Sans" font-size="26" fill="#000" stroke="#000" stroke-width="0.5" style="font-kerning:none;white-space:pre">29,3</text></g>
<g transform="translate(945.600,1324.34) scale(0.7950,1)"><text x="0.000" y="0" font-family="Liberation Sans" font-size="26" fill="#000" stroke="#000" stroke-width="0.5" style="font-kerning:none;white-space:pre">8</text></g>
<g transform="translate(1040.400,1324.34) scale(0.7950,1)"><text x="0.000" y="0" font-family="Liberation Sans" font-size="26" fill="#000" stroke="#000" stroke-width="0.5" style="font-kerning:none;white-space:pre">43</text></g>
<g transform="translate(95.300,1359.76) scale(0.7550,1)"><text x="0.000" y="0" font-family="Liberation Sans" font-size="26" fill="#000" stroke="#000" stroke-width="0.5" style="font-kerning:none;white-space:pre">ШНИ</text></g><g transform="translate(141.576,1359.76) scale(0.7950,1)"><text x="0.000" y="0" font-family="Liberation Sans" font-size="26" fill="#000" stroke="#000" stroke-width="0.5" style="font-kerning:none;white-space:pre">-8</text></g><g transform="translate(159.955,1359.76) scale(0.7550,1)"><text x="0.000" y="0" font-family="Liberation Sans" font-size="26" fill="#000" stroke="#000" stroke-width="0.5" style="font-kerning:none;white-space:pre">х</text></g><g transform="translate(169.770,1359.76) scale(0.7950,1)"><text x="0.000" y="0" font-family="Liberation Sans" font-size="26" fill="#000" stroke="#000" stroke-width="0.5" style="font-kerning:none;white-space:pre"> 2-6-</text><use href="#g1" transform="translate(0.000,0) scale(26)" fill="#000" stroke="#000" stroke-width="0.0192"/></g><g transform="translate(218.024,1359.76) scale(0.7550,1)"><text x="0.000" y="0" font-family="Liberation Sans" font-size="26" fill="#000" stroke="#000" stroke-width="0.5" style="font-kerning:none;white-space:pre">У</text></g><g transform="translate(230.494,1359.76) scale(0.7950,1)"><text x="0.000" y="0" font-family="Liberation Sans" font-size="26" fill="#000" stroke="#000" stroke-width="0.5" style="font-kerning:none;white-space:pre">2</text></g>
<g transform="translate(477.400,1359.76) scale(0.7950,1)"><text x="0.000" y="0" font-family="Liberation Sans" font-size="26" fill="#000" stroke="#000" stroke-width="0.5" style="font-kerning:none;white-space:pre">68...96</text></g>
<g transform="translate(622.300,1359.76) scale(0.7950,1)"><text x="0.000" y="0" font-family="Liberation Sans" font-size="26" fill="#000" stroke="#000" stroke-width="0.5" style="font-kerning:none;white-space:pre">53...8 </text><use href="#g1" transform="translate(65.051,0) scale(26)" fill="#000" stroke="#000" stroke-width="0.0192"/></g>
<g transform="translate(1040.400,1359.76) scale(0.7950,1)"><text x="0.000" y="0" font-family="Liberation Sans" font-size="26" fill="#000" stroke="#000" stroke-width="0.5" style="font-kerning:none;white-space:pre">54</text></g>
<g transform="translate(95.300,1395.18) scale(0.7550,1)"><text x="0.000" y="0" font-family="Liberation Sans" font-size="26" fill="#000" stroke="#000" stroke-width="0.5" style="font-kerning:none;white-space:pre">ШНИ</text></g><g transform="translate(141.576,1395.18) scale(0.7950,1)"><text x="0.000" y="0" font-family="Liberation Sans" font-size="26" fill="#000" stroke="#000" stroke-width="0.5" style="font-kerning:none;white-space:pre">-8</text></g><g transform="translate(159.955,1395.18) scale(0.7550,1)"><text x="0.000" y="0" font-family="Liberation Sans" font-size="26" fill="#000" stroke="#000" stroke-width="0.5" style="font-kerning:none;white-space:pre">х</text></g><g transform="translate(169.770,1395.18) scale(0.7950,1)"><text x="0.000" y="0" font-family="Liberation Sans" font-size="26" fill="#000" stroke="#000" stroke-width="0.5" style="font-kerning:none;white-space:pre"> 2-8-</text><use href="#g1" transform="translate(0.000,0) scale(26)" fill="#000" stroke="#000" stroke-width="0.0192"/></g><g transform="translate(218.024,1395.18) scale(0.7550,1)"><text x="0.000" y="0" font-family="Liberation Sans" font-size="26" fill="#000" stroke="#000" stroke-width="0.5" style="font-kerning:none;white-space:pre">У</text></g><g transform="translate(230.494,1395.18) scale(0.7950,1)"><text x="0.000" y="0" font-family="Liberation Sans" font-size="26" fill="#000" stroke="#000" stroke-width="0.5" style="font-kerning:none;white-space:pre">2</text></g>
<g transform="translate(477.400,1395.18) scale(0.7950,1)"><text x="0.000" y="0" font-family="Liberation Sans" font-size="26" fill="#000" stroke="#000" stroke-width="0.5" style="font-kerning:none;white-space:pre">82...  0</text><use href="#g1" transform="translate(50.591,0) scale(26)" fill="#000" stroke="#000" stroke-width="0.0192"/><use href="#g1" transform="translate(65.051,0) scale(26)" fill="#000" stroke="#000" stroke-width="0.0192"/></g>
<g transform="translate(622.300,1395.18) scale(0.7950,1)"><text x="0.000" y="0" font-family="Liberation Sans" font-size="26" fill="#000" stroke="#000" stroke-width="0.5" style="font-kerning:none;white-space:pre">67...95</text></g>
<g transform="translate(1040.400,1395.18) scale(0.7950,1)"><text x="0.000" y="0" font-family="Liberation Sans" font-size="26" fill="#000" stroke="#000" stroke-width="0.5" style="font-kerning:none;white-space:pre">65</text></g>
<g transform="translate(95.300,1430.60) scale(0.7550,1)"><text x="0.000" y="0" font-family="Liberation Sans" font-size="26" fill="#000" stroke="#000" stroke-width="0.5" style="font-kerning:none;white-space:pre">ШНИ</text></g><g transform="translate(141.576,1430.60) scale(0.7950,1)"><text x="0.000" y="0" font-family="Liberation Sans" font-size="26" fill="#000" stroke="#000" stroke-width="0.5" style="font-kerning:none;white-space:pre">-8</text></g><g transform="translate(159.955,1430.60) scale(0.7550,1)"><text x="0.000" y="0" font-family="Liberation Sans" font-size="26" fill="#000" stroke="#000" stroke-width="0.5" style="font-kerning:none;white-space:pre">х</text></g><g transform="translate(169.770,1430.60) scale(0.7950,1)"><text x="0.000" y="0" font-family="Liberation Sans" font-size="26" fill="#000" stroke="#000" stroke-width="0.5" style="font-kerning:none;white-space:pre"> 2- 0-</text><use href="#g1" transform="translate(0.000,0) scale(26)" fill="#000" stroke="#000" stroke-width="0.0192"/><use href="#g1" transform="translate(37.578,0) scale(26)" fill="#000" stroke="#000" stroke-width="0.0192"/></g><g transform="translate(229.519,1430.60) scale(0.7550,1)"><text x="0.000" y="0" font-family="Liberation Sans" font-size="26" fill="#000" stroke="#000" stroke-width="0.5" style="font-kerning:none;white-space:pre">У</text></g><g transform="translate(241.989,1430.60) scale(0.7950,1)"><text x="0.000" y="0" font-family="Liberation Sans" font-size="26" fill="#000" stroke="#000" stroke-width="0.5" style="font-kerning:none;white-space:pre">2</text></g>
<g transform="translate(477.400,1430.60) scale(0.7950,1)"><text x="0.000" y="0" font-family="Liberation Sans" font-size="26" fill="#000" stroke="#000" stroke-width="0.5" style="font-kerning:none;white-space:pre">96... 24</text><use href="#g1" transform="translate(50.591,0) scale(26)" fill="#000" stroke="#000" stroke-width="0.0192"/></g>
<g transform="translate(622.300,1430.60) scale(0.7950,1)"><text x="0.000" y="0" font-family="Liberation Sans" font-size="26" fill="#000" stroke="#000" stroke-width="0.5" style="font-kerning:none;white-space:pre">8 ... 09</text><use href="#g1" transform="translate(14.460,0) scale(26)" fill="#000" stroke="#000" stroke-width="0.0192"/><use href="#g1" transform="translate(50.591,0) scale(26)" fill="#000" stroke="#000" stroke-width="0.0192"/></g>
<g transform="translate(1040.400,1430.60) scale(0.7950,1)"><text x="0.000" y="0" font-family="Liberation Sans" font-size="26" fill="#000" stroke="#000" stroke-width="0.5" style="font-kerning:none;white-space:pre">80</text></g>
<g transform="translate(95.300,1466.02) scale(0.7550,1)"><text x="0.000" y="0" font-family="Liberation Sans" font-size="26" fill="#000" stroke="#000" stroke-width="0.5" style="font-kerning:none;white-space:pre">ШНИ</text></g><g transform="translate(141.576,1466.02) scale(0.7950,1)"><text x="0.000" y="0" font-family="Liberation Sans" font-size="26" fill="#000" stroke="#000" stroke-width="0.5" style="font-kerning:none;white-space:pre">-8</text></g><g transform="translate(159.955,1466.02) scale(0.7550,1)"><text x="0.000" y="0" font-family="Liberation Sans" font-size="26" fill="#000" stroke="#000" stroke-width="0.5" style="font-kerning:none;white-space:pre">х</text></g><g transform="translate(169.770,1466.02) scale(0.7950,1)"><text x="0.000" y="0" font-family="Liberation Sans" font-size="26" fill="#000" stroke="#000" stroke-width="0.5" style="font-kerning:none;white-space:pre"> 2- 2-</text><use href="#g1" transform="translate(0.000,0) scale(26)" fill="#000" stroke="#000" stroke-width="0.0192"/><use href="#g1" transform="translate(37.578,0) scale(26)" fill="#000" stroke="#000" stroke-width="0.0192"/></g><g transform="translate(229.519,1466.02) scale(0.7550,1)"><text x="0.000" y="0" font-family="Liberation Sans" font-size="26" fill="#000" stroke="#000" stroke-width="0.5" style="font-kerning:none;white-space:pre">У</text></g><g transform="translate(241.989,1466.02) scale(0.7950,1)"><text x="0.000" y="0" font-family="Liberation Sans" font-size="26" fill="#000" stroke="#000" stroke-width="0.5" style="font-kerning:none;white-space:pre">2</text></g>
<g transform="translate(477.400,1466.02) scale(0.7950,1)"><text x="0.000" y="0" font-family="Liberation Sans" font-size="26" fill="#000" stroke="#000" stroke-width="0.5" style="font-kerning:none;white-space:pre">  0... 38</text><use href="#g1" transform="translate(0.000,0) scale(26)" fill="#000" stroke="#000" stroke-width="0.0192"/><use href="#g1" transform="translate(14.460,0) scale(26)" fill="#000" stroke="#000" stroke-width="0.0192"/><use href="#g1" transform="translate(65.051,0) scale(26)" fill="#000" stroke="#000" stroke-width="0.0192"/></g>
<g transform="translate(622.300,1466.02) scale(0.7950,1)"><text x="0.000" y="0" font-family="Liberation Sans" font-size="26" fill="#000" stroke="#000" stroke-width="0.5" style="font-kerning:none;white-space:pre">95... 23</text><use href="#g1" transform="translate(50.591,0) scale(26)" fill="#000" stroke="#000" stroke-width="0.0192"/></g>
<g transform="translate(1040.400,1466.02) scale(0.7950,1)"><text x="0.000" y="0" font-family="Liberation Sans" font-size="26" fill="#000" stroke="#000" stroke-width="0.5" style="font-kerning:none;white-space:pre">87</text></g>
<g transform="translate(95.300,1501.44) scale(0.7550,1)"><text x="0.000" y="0" font-family="Liberation Sans" font-size="26" fill="#000" stroke="#000" stroke-width="0.5" style="font-kerning:none;white-space:pre">ШНИ</text></g><g transform="translate(141.576,1501.44) scale(0.7950,1)"><text x="0.000" y="0" font-family="Liberation Sans" font-size="26" fill="#000" stroke="#000" stroke-width="0.5" style="font-kerning:none;white-space:pre">-8</text></g><g transform="translate(159.955,1501.44) scale(0.7550,1)"><text x="0.000" y="0" font-family="Liberation Sans" font-size="26" fill="#000" stroke="#000" stroke-width="0.5" style="font-kerning:none;white-space:pre">х</text></g><g transform="translate(169.770,1501.44) scale(0.7950,1)"><text x="0.000" y="0" font-family="Liberation Sans" font-size="26" fill="#000" stroke="#000" stroke-width="0.5" style="font-kerning:none;white-space:pre"> 2- 4-</text><use href="#g1" transform="translate(0.000,0) scale(26)" fill="#000" stroke="#000" stroke-width="0.0192"/><use href="#g1" transform="translate(37.578,0) scale(26)" fill="#000" stroke="#000" stroke-width="0.0192"/></g><g transform="translate(229.519,1501.44) scale(0.7550,1)"><text x="0.000" y="0" font-family="Liberation Sans" font-size="26" fill="#000" stroke="#000" stroke-width="0.5" style="font-kerning:none;white-space:pre">У</text></g><g transform="translate(241.989,1501.44) scale(0.7950,1)"><text x="0.000" y="0" font-family="Liberation Sans" font-size="26" fill="#000" stroke="#000" stroke-width="0.5" style="font-kerning:none;white-space:pre">2</text></g>
<g transform="translate(477.400,1501.44) scale(0.7950,1)"><text x="0.000" y="0" font-family="Liberation Sans" font-size="26" fill="#000" stroke="#000" stroke-width="0.5" style="font-kerning:none;white-space:pre"> 24... 52</text><use href="#g1" transform="translate(0.000,0) scale(26)" fill="#000" stroke="#000" stroke-width="0.0192"/><use href="#g1" transform="translate(65.051,0) scale(26)" fill="#000" stroke="#000" stroke-width="0.0192"/></g>
<g transform="translate(622.300,1501.44) scale(0.7950,1)"><text x="0.000" y="0" font-family="Liberation Sans" font-size="26" fill="#000" stroke="#000" stroke-width="0.5" style="font-kerning:none;white-space:pre"> 09... 37</text><use href="#g1" transform="translate(0.000,0) scale(26)" fill="#000" stroke="#000" stroke-width="0.0192"/><use href="#g1" transform="translate(65.051,0) scale(26)" fill="#000" stroke="#000" stroke-width="0.0192"/></g>
<g transform="translate(1040.400,1501.44) scale(0.7950,1)"><text x="0.000" y="0" font-family="Liberation Sans" font-size="26" fill="#000" stroke="#000" stroke-width="0.5" style="font-kerning:none;white-space:pre"> 00</text><use href="#g1" transform="translate(0.000,0) scale(26)" fill="#000" stroke="#000" stroke-width="0.0192"/></g>
<g transform="translate(95.300,1536.86) scale(0.7550,1)"><text x="0.000" y="0" font-family="Liberation Sans" font-size="26" fill="#000" stroke="#000" stroke-width="0.5" style="font-kerning:none;white-space:pre">ШНИ</text></g><g transform="translate(141.576,1536.86) scale(0.7950,1)"><text x="0.000" y="0" font-family="Liberation Sans" font-size="26" fill="#000" stroke="#000" stroke-width="0.5" style="font-kerning:none;white-space:pre">-8</text></g><g transform="translate(159.955,1536.86) scale(0.7550,1)"><text x="0.000" y="0" font-family="Liberation Sans" font-size="26" fill="#000" stroke="#000" stroke-width="0.5" style="font-kerning:none;white-space:pre">х</text></g><g transform="translate(169.770,1536.86) scale(0.7950,1)"><text x="0.000" y="0" font-family="Liberation Sans" font-size="26" fill="#000" stroke="#000" stroke-width="0.5" style="font-kerning:none;white-space:pre"> 2- 6-</text><use href="#g1" transform="translate(0.000,0) scale(26)" fill="#000" stroke="#000" stroke-width="0.0192"/><use href="#g1" transform="translate(37.578,0) scale(26)" fill="#000" stroke="#000" stroke-width="0.0192"/></g><g transform="translate(229.519,1536.86) scale(0.7550,1)"><text x="0.000" y="0" font-family="Liberation Sans" font-size="26" fill="#000" stroke="#000" stroke-width="0.5" style="font-kerning:none;white-space:pre">У</text></g><g transform="translate(241.989,1536.86) scale(0.7950,1)"><text x="0.000" y="0" font-family="Liberation Sans" font-size="26" fill="#000" stroke="#000" stroke-width="0.5" style="font-kerning:none;white-space:pre">2</text></g>
<g transform="translate(477.400,1536.86) scale(0.7950,1)"><text x="0.000" y="0" font-family="Liberation Sans" font-size="26" fill="#000" stroke="#000" stroke-width="0.5" style="font-kerning:none;white-space:pre"> 38... 66</text><use href="#g1" transform="translate(0.000,0) scale(26)" fill="#000" stroke="#000" stroke-width="0.0192"/><use href="#g1" transform="translate(65.051,0) scale(26)" fill="#000" stroke="#000" stroke-width="0.0192"/></g>
<g transform="translate(622.300,1536.86) scale(0.7950,1)"><text x="0.000" y="0" font-family="Liberation Sans" font-size="26" fill="#000" stroke="#000" stroke-width="0.5" style="font-kerning:none;white-space:pre"> 23... 5 </text><use href="#g1" transform="translate(0.000,0) scale(26)" fill="#000" stroke="#000" stroke-width="0.0192"/><use href="#g1" transform="translate(65.051,0) scale(26)" fill="#000" stroke="#000" stroke-width="0.0192"/><use href="#g1" transform="translate(93.971,0) scale(26)" fill="#000" stroke="#000" stroke-width="0.0192"/></g>
<g transform="translate(1040.400,1536.86) scale(0.7950,1)"><text x="0.000" y="0" font-family="Liberation Sans" font-size="26" fill="#000" stroke="#000" stroke-width="0.5" style="font-kerning:none;white-space:pre">  0</text><use href="#g1" transform="translate(0.000,0) scale(26)" fill="#000" stroke="#000" stroke-width="0.0192"/><use href="#g1" transform="translate(14.460,0) scale(26)" fill="#000" stroke="#000" stroke-width="0.0192"/></g>
<g transform="translate(95.300,1572.28) scale(0.7550,1)"><text x="0.000" y="0" font-family="Liberation Sans" font-size="26" fill="#000" stroke="#000" stroke-width="0.5" style="font-kerning:none;white-space:pre">ШНИ</text></g><g transform="translate(141.576,1572.28) scale(0.7950,1)"><text x="0.000" y="0" font-family="Liberation Sans" font-size="26" fill="#000" stroke="#000" stroke-width="0.5" style="font-kerning:none;white-space:pre">-8</text></g><g transform="translate(159.955,1572.28) scale(0.7550,1)"><text x="0.000" y="0" font-family="Liberation Sans" font-size="26" fill="#000" stroke="#000" stroke-width="0.5" style="font-kerning:none;white-space:pre">х</text></g><g transform="translate(169.770,1572.28) scale(0.7950,1)"><text x="0.000" y="0" font-family="Liberation Sans" font-size="26" fill="#000" stroke="#000" stroke-width="0.5" style="font-kerning:none;white-space:pre"> 2- 8-</text><use href="#g1" transform="translate(0.000,0) scale(26)" fill="#000" stroke="#000" stroke-width="0.0192"/><use href="#g1" transform="translate(37.578,0) scale(26)" fill="#000" stroke="#000" stroke-width="0.0192"/></g><g transform="translate(229.519,1572.28) scale(0.7550,1)"><text x="0.000" y="0" font-family="Liberation Sans" font-size="26" fill="#000" stroke="#000" stroke-width="0.5" style="font-kerning:none;white-space:pre">У</text></g><g transform="translate(241.989,1572.28) scale(0.7950,1)"><text x="0.000" y="0" font-family="Liberation Sans" font-size="26" fill="#000" stroke="#000" stroke-width="0.5" style="font-kerning:none;white-space:pre">2</text></g>
<g transform="translate(477.400,1572.28) scale(0.7950,1)"><text x="0.000" y="0" font-family="Liberation Sans" font-size="26" fill="#000" stroke="#000" stroke-width="0.5" style="font-kerning:none;white-space:pre"> 52... 80</text><use href="#g1" transform="translate(0.000,0) scale(26)" fill="#000" stroke="#000" stroke-width="0.0192"/><use href="#g1" transform="translate(65.051,0) scale(26)" fill="#000" stroke="#000" stroke-width="0.0192"/></g>
<g transform="translate(622.300,1572.28) scale(0.7950,1)"><text x="0.000" y="0" font-family="Liberation Sans" font-size="26" fill="#000" stroke="#000" stroke-width="0.5" style="font-kerning:none;white-space:pre"> 37... 65</text><use href="#g1" transform="translate(0.000,0) scale(26)" fill="#000" stroke="#000" stroke-width="0.0192"/><use href="#g1" transform="translate(65.051,0) scale(26)" fill="#000" stroke="#000" stroke-width="0.0192"/></g>
<g transform="translate(1040.400,1572.28) scale(0.7950,1)"><text x="0.000" y="0" font-family="Liberation Sans" font-size="26" fill="#000" stroke="#000" stroke-width="0.5" style="font-kerning:none;white-space:pre"> 2 </text><use href="#g1" transform="translate(0.000,0) scale(26)" fill="#000" stroke="#000" stroke-width="0.0192"/><use href="#g1" transform="translate(28.920,0) scale(26)" fill="#000" stroke="#000" stroke-width="0.0192"/></g>
<g transform="translate(95.300,1607.70) scale(0.7550,1)"><text x="0.000" y="0" font-family="Liberation Sans" font-size="26" fill="#000" stroke="#000" stroke-width="0.5" style="font-kerning:none;white-space:pre">ШНИ</text></g><g transform="translate(141.576,1607.70) scale(0.7950,1)"><text x="0.000" y="0" font-family="Liberation Sans" font-size="26" fill="#000" stroke="#000" stroke-width="0.5" style="font-kerning:none;white-space:pre">-8</text></g><g transform="translate(159.955,1607.70) scale(0.7550,1)"><text x="0.000" y="0" font-family="Liberation Sans" font-size="26" fill="#000" stroke="#000" stroke-width="0.5" style="font-kerning:none;white-space:pre">х</text></g><g transform="translate(169.770,1607.70) scale(0.7950,1)"><text x="0.000" y="0" font-family="Liberation Sans" font-size="26" fill="#000" stroke="#000" stroke-width="0.5" style="font-kerning:none;white-space:pre"> 2-20-</text><use href="#g1" transform="translate(0.000,0) scale(26)" fill="#000" stroke="#000" stroke-width="0.0192"/></g><g transform="translate(229.519,1607.70) scale(0.7550,1)"><text x="0.000" y="0" font-family="Liberation Sans" font-size="26" fill="#000" stroke="#000" stroke-width="0.5" style="font-kerning:none;white-space:pre">У</text></g><g transform="translate(241.989,1607.70) scale(0.7950,1)"><text x="0.000" y="0" font-family="Liberation Sans" font-size="26" fill="#000" stroke="#000" stroke-width="0.5" style="font-kerning:none;white-space:pre">2</text></g>
<g transform="translate(477.400,1607.70) scale(0.7950,1)"><text x="0.000" y="0" font-family="Liberation Sans" font-size="26" fill="#000" stroke="#000" stroke-width="0.5" style="font-kerning:none;white-space:pre"> 66... 94</text><use href="#g1" transform="translate(0.000,0) scale(26)" fill="#000" stroke="#000" stroke-width="0.0192"/><use href="#g1" transform="translate(65.051,0) scale(26)" fill="#000" stroke="#000" stroke-width="0.0192"/></g>
<g transform="translate(622.300,1607.70) scale(0.7950,1)"><text x="0.000" y="0" font-family="Liberation Sans" font-size="26" fill="#000" stroke="#000" stroke-width="0.5" style="font-kerning:none;white-space:pre"> 5 ... 79</text><use href="#g1" transform="translate(0.000,0) scale(26)" fill="#000" stroke="#000" stroke-width="0.0192"/><use href="#g1" transform="translate(28.920,0) scale(26)" fill="#000" stroke="#000" stroke-width="0.0192"/><use href="#g1" transform="translate(65.051,0) scale(26)" fill="#000" stroke="#000" stroke-width="0.0192"/></g>
<g transform="translate(1040.400,1607.70) scale(0.7950,1)"><text x="0.000" y="0" font-family="Liberation Sans" font-size="26" fill="#000" stroke="#000" stroke-width="0.5" style="font-kerning:none;white-space:pre"> 32</text><use href="#g1" transform="translate(0.000,0) scale(26)" fill="#000" stroke="#000" stroke-width="0.0192"/></g>
<g transform="translate(95.300,1643.12) scale(0.7550,1)"><text x="0.000" y="0" font-family="Liberation Sans" font-size="26" fill="#000" stroke="#000" stroke-width="0.5" style="font-kerning:none;white-space:pre">ШНИ</text></g><g transform="translate(141.576,1643.12) scale(0.7950,1)"><text x="0.000" y="0" font-family="Liberation Sans" font-size="26" fill="#000" stroke="#000" stroke-width="0.5" style="font-kerning:none;white-space:pre">-8</text></g><g transform="translate(159.955,1643.12) scale(0.7550,1)"><text x="0.000" y="0" font-family="Liberation Sans" font-size="26" fill="#000" stroke="#000" stroke-width="0.5" style="font-kerning:none;white-space:pre">х</text></g><g transform="translate(169.770,1643.12) scale(0.7950,1)"><text x="0.000" y="0" font-family="Liberation Sans" font-size="26" fill="#000" stroke="#000" stroke-width="0.5" style="font-kerning:none;white-space:pre"> 2-22-</text><use href="#g1" transform="translate(0.000,0) scale(26)" fill="#000" stroke="#000" stroke-width="0.0192"/></g><g transform="translate(229.519,1643.12) scale(0.7550,1)"><text x="0.000" y="0" font-family="Liberation Sans" font-size="26" fill="#000" stroke="#000" stroke-width="0.5" style="font-kerning:none;white-space:pre">У</text></g><g transform="translate(241.989,1643.12) scale(0.7950,1)"><text x="0.000" y="0" font-family="Liberation Sans" font-size="26" fill="#000" stroke="#000" stroke-width="0.5" style="font-kerning:none;white-space:pre">2</text></g>
<g transform="translate(477.400,1643.12) scale(0.7950,1)"><text x="0.000" y="0" font-family="Liberation Sans" font-size="26" fill="#000" stroke="#000" stroke-width="0.5" style="font-kerning:none;white-space:pre"> 80...208</text><use href="#g1" transform="translate(0.000,0) scale(26)" fill="#000" stroke="#000" stroke-width="0.0192"/></g>
<g transform="translate(622.300,1643.12) scale(0.7950,1)"><text x="0.000" y="0" font-family="Liberation Sans" font-size="26" fill="#000" stroke="#000" stroke-width="0.5" style="font-kerning:none;white-space:pre"> 65... 93</text><use href="#g1" transform="translate(0.000,0) scale(26)" fill="#000" stroke="#000" stroke-width="0.0192"/><use href="#g1" transform="translate(65.051,0) scale(26)" fill="#000" stroke="#000" stroke-width="0.0192"/></g>
<g transform="translate(1040.400,1643.12) scale(0.7950,1)"><text x="0.000" y="0" font-family="Liberation Sans" font-size="26" fill="#000" stroke="#000" stroke-width="0.5" style="font-kerning:none;white-space:pre"> 43</text><use href="#g1" transform="translate(0.000,0) scale(26)" fill="#000" stroke="#000" stroke-width="0.0192"/></g>
<g transform="translate(95.300,1678.54) scale(0.7550,1)"><text x="0.000" y="0" font-family="Liberation Sans" font-size="26" fill="#000" stroke="#000" stroke-width="0.5" style="font-kerning:none;white-space:pre">ШНИ</text></g><g transform="translate(141.576,1678.54) scale(0.7950,1)"><text x="0.000" y="0" font-family="Liberation Sans" font-size="26" fill="#000" stroke="#000" stroke-width="0.5" style="font-kerning:none;white-space:pre">-8</text></g><g transform="translate(159.955,1678.54) scale(0.7550,1)"><text x="0.000" y="0" font-family="Liberation Sans" font-size="26" fill="#000" stroke="#000" stroke-width="0.5" style="font-kerning:none;white-space:pre">х</text></g><g transform="translate(169.770,1678.54) scale(0.7950,1)"><text x="0.000" y="0" font-family="Liberation Sans" font-size="26" fill="#000" stroke="#000" stroke-width="0.5" style="font-kerning:none;white-space:pre"> 2-24-</text><use href="#g1" transform="translate(0.000,0) scale(26)" fill="#000" stroke="#000" stroke-width="0.0192"/></g><g transform="translate(229.519,1678.54) scale(0.7550,1)"><text x="0.000" y="0" font-family="Liberation Sans" font-size="26" fill="#000" stroke="#000" stroke-width="0.5" style="font-kerning:none;white-space:pre">У</text></g><g transform="translate(241.989,1678.54) scale(0.7950,1)"><text x="0.000" y="0" font-family="Liberation Sans" font-size="26" fill="#000" stroke="#000" stroke-width="0.5" style="font-kerning:none;white-space:pre">2</text></g>
<g transform="translate(477.400,1678.54) scale(0.7950,1)"><text x="0.000" y="0" font-family="Liberation Sans" font-size="26" fill="#000" stroke="#000" stroke-width="0.5" style="font-kerning:none;white-space:pre"> 94...222</text><use href="#g1" transform="translate(0.000,0) scale(26)" fill="#000" stroke="#000" stroke-width="0.0192"/></g>
<g transform="translate(622.300,1678.54) scale(0.7950,1)"><text x="0.000" y="0" font-family="Liberation Sans" font-size="26" fill="#000" stroke="#000" stroke-width="0.5" style="font-kerning:none;white-space:pre"> 79...207</text><use href="#g1" transform="translate(0.000,0) scale(26)" fill="#000" stroke="#000" stroke-width="0.0192"/></g>
<g transform="translate(1040.400,1678.54) scale(0.7950,1)"><text x="0.000" y="0" font-family="Liberation Sans" font-size="26" fill="#000" stroke="#000" stroke-width="0.5" style="font-kerning:none;white-space:pre"> 54</text><use href="#g1" transform="translate(0.000,0) scale(26)" fill="#000" stroke="#000" stroke-width="0.0192"/></g>
</svg></body></html>
